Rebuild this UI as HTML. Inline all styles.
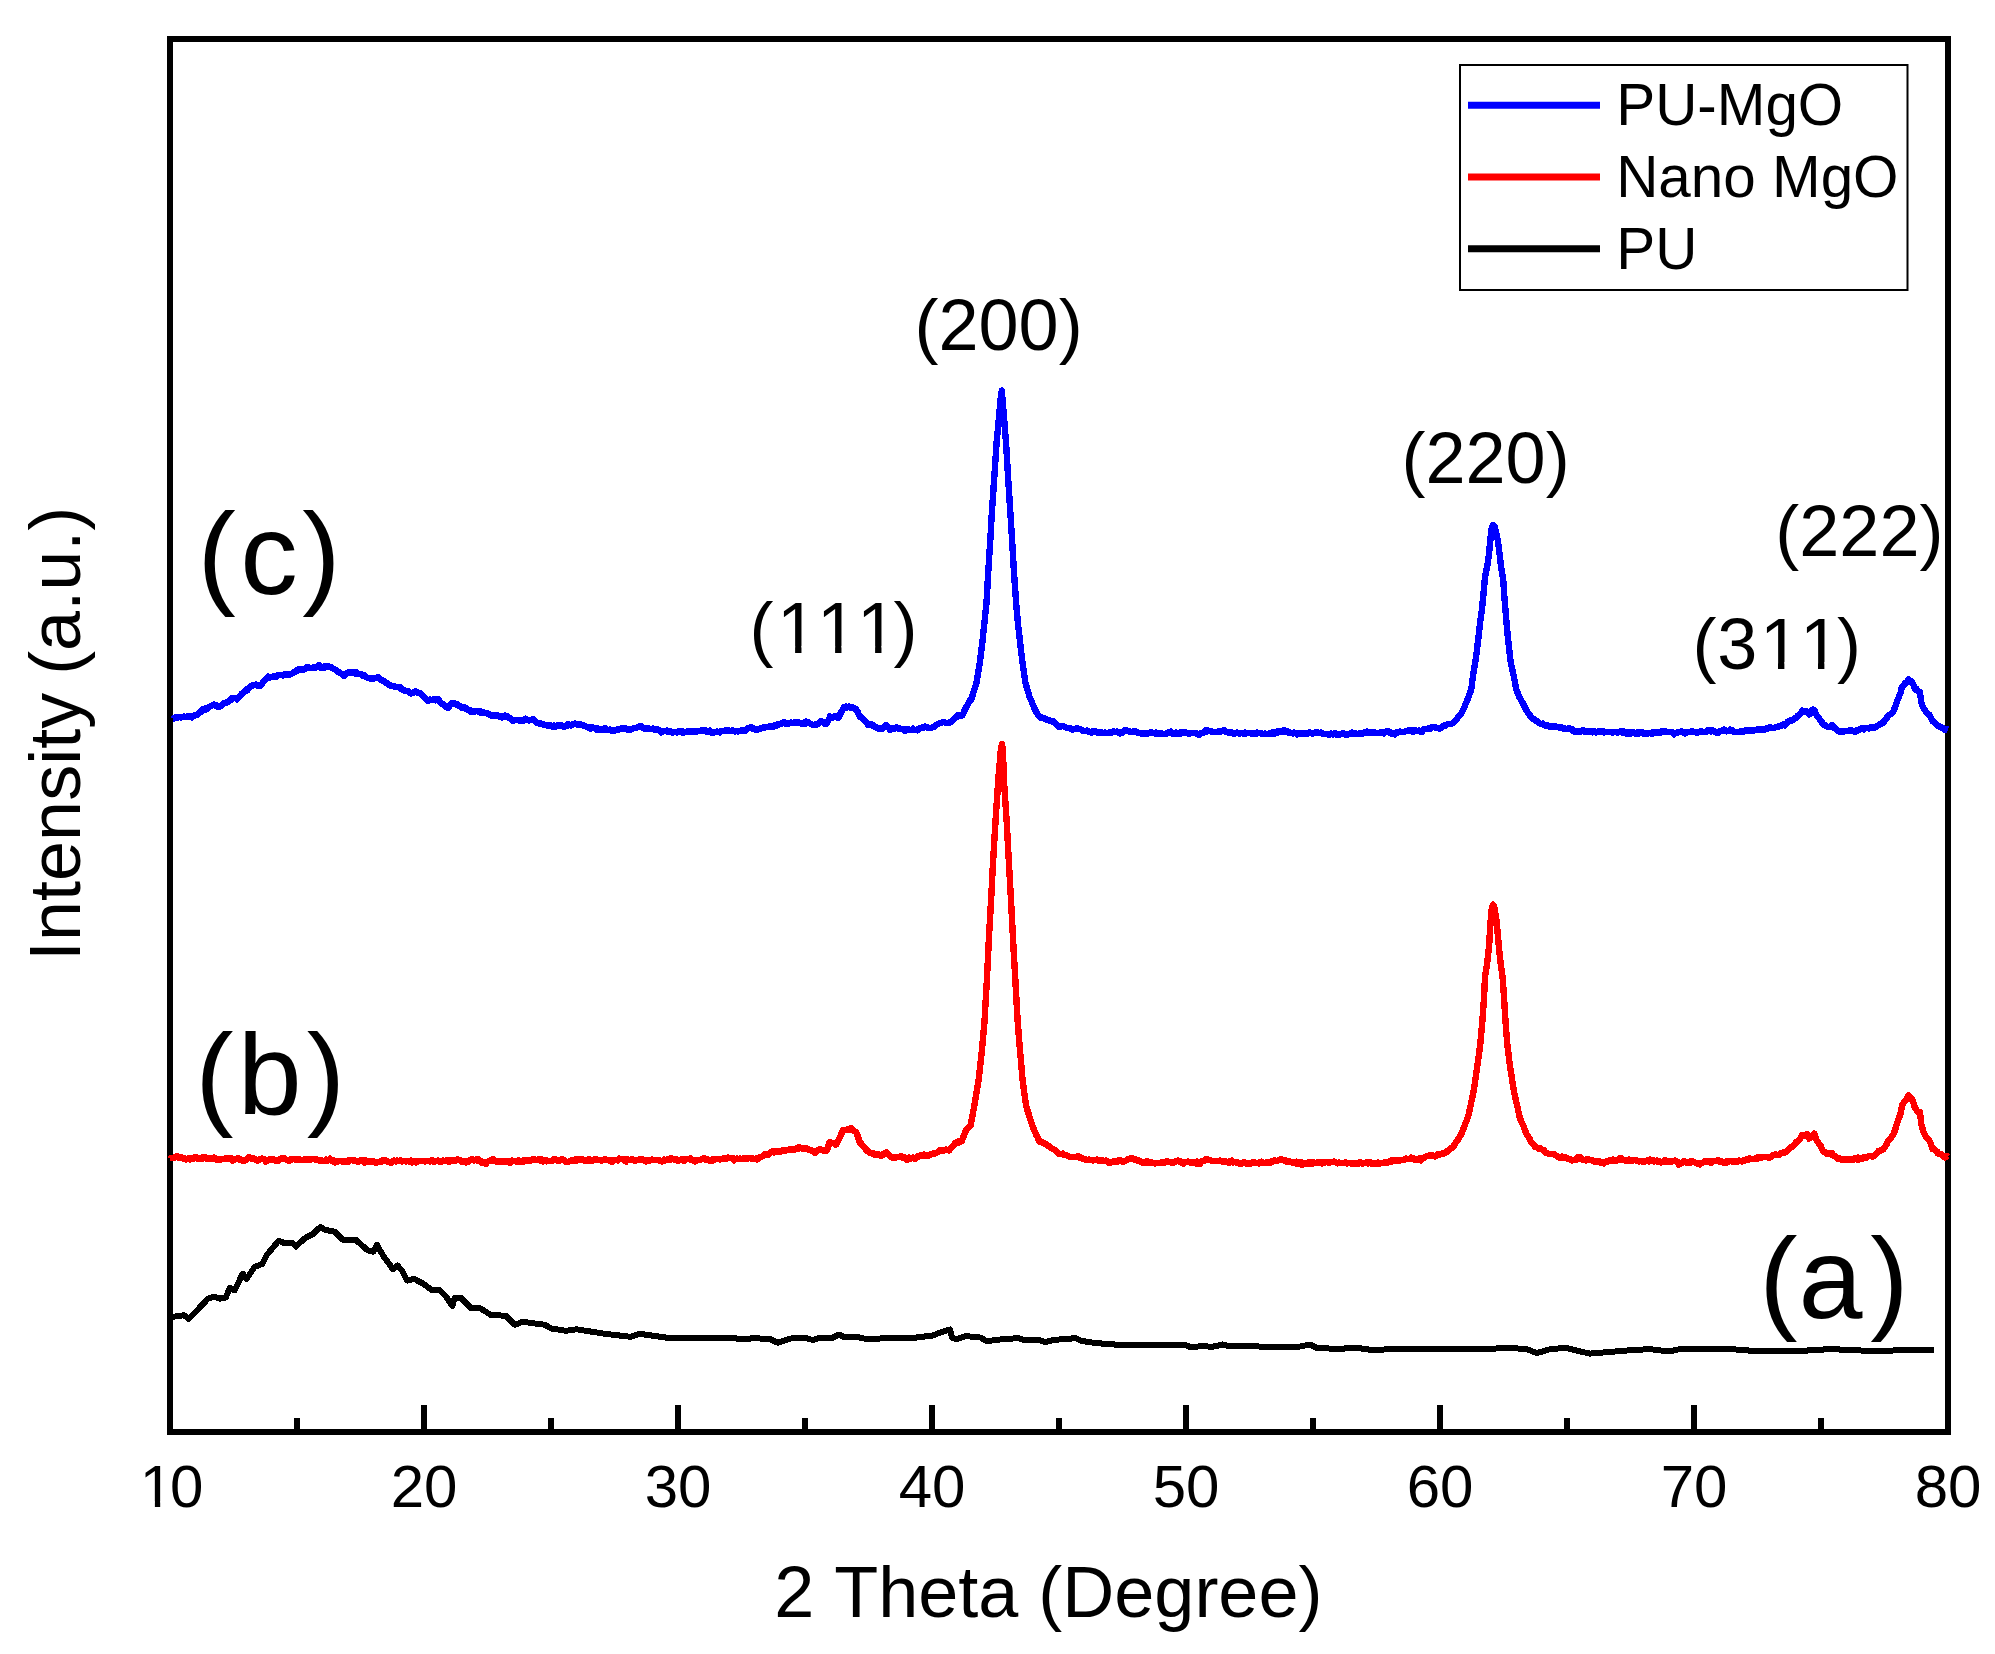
<!DOCTYPE html>
<html lang="en"><head><meta charset="utf-8"><title>XRD patterns</title>
<style>
html,body{margin:0;padding:0;background:#fff;}
body{width:1995px;height:1654px;overflow:hidden;}
svg{display:block;}
svg text{font-family:'Liberation Sans',Arial,sans-serif;fill:#000;font-kerning:none;}
.curve{fill:none;stroke-width:6.4;stroke-linejoin:round;stroke-linecap:butt;shape-rendering:crispEdges;}
</style></head><body>
<svg width="1995" height="1654" viewBox="0 0 1995 1654">
<rect x="0" y="0" width="1995" height="1654" fill="#fff"/>
<path class="curve" stroke="#000" style="stroke-width:6" d="M170.0 1317.0 L173.5 1316.7 L184.0 1315.2 L188.6 1318.8 L197.6 1309.8 L208.0 1298.6 L214.0 1296.8 L220.0 1298.6 L225.6 1297.7 L229.8 1287.8 L234.6 1290.2 L242.7 1273.7 L246.6 1278.8 L254.7 1266.8 L262.3 1264.0 L266.8 1255.0 L278.8 1240.6 L283.3 1242.7 L292.3 1242.7 L296.0 1246.6 L304.4 1238.5 L313.4 1233.7 L320.3 1227.0 L325.4 1230.0 L334.4 1231.6 L342.9 1239.7 L355.5 1239.7 L367.5 1250.2 L373.5 1251.7 L377.0 1245.0 L384.0 1257.0 L393.0 1269.2 L397.6 1265.6 L402.0 1270.7 L407.2 1280.6 L414.0 1278.8 L423.0 1283.6 L432.0 1290.2 L439.7 1290.2 L445.7 1296.2 L452.3 1305.9 L454.7 1297.7 L460.7 1297.7 L471.3 1308.3 L480.3 1308.3 L490.8 1314.9 L505.9 1315.8 L514.9 1324.8 L522.4 1321.8 L545.0 1324.8 L551.0 1328.4 L566.0 1330.8 L576.5 1329.3 L605.0 1333.8 L630.7 1336.8 L639.7 1333.8 L671.3 1338.3 L701.4 1337.7 L731.4 1337.7 L740.5 1339.2 L755.0 1338.2 L770.0 1339.1 L777.6 1342.7 L791.0 1338.5 L806.0 1338.2 L812.8 1340.0 L818.0 1338.2 L833.0 1337.6 L839.0 1334.6 L843.8 1337.0 L858.8 1337.3 L867.8 1339.4 L884.4 1338.2 L916.0 1337.6 L932.5 1335.5 L944.5 1331.0 L950.0 1329.5 L952.0 1337.6 L956.5 1339.1 L965.6 1336.1 L980.6 1337.6 L987.2 1341.5 L995.6 1339.7 L1010.7 1339.1 L1016.7 1337.6 L1022.7 1339.7 L1039.2 1340.0 L1045.3 1342.1 L1054.3 1339.7 L1069.3 1339.1 L1074.4 1337.6 L1081.4 1340.9 L1094.9 1343.0 L1122.0 1345.1 L1185.0 1345.1 L1191.0 1347.2 L1203.0 1346.0 L1212.0 1346.9 L1222.7 1344.5 L1230.0 1346.3 L1272.3 1346.6 L1299.4 1346.6 L1310.0 1344.5 L1317.4 1348.1 L1340.0 1348.9 L1355.0 1347.6 L1370.0 1349.7 L1415.0 1349.1 L1490.4 1349.1 L1504.0 1347.6 L1526.5 1349.1 L1537.0 1353.0 L1550.5 1349.1 L1565.6 1347.9 L1589.6 1353.6 L1625.7 1350.6 L1649.8 1349.1 L1669.3 1351.5 L1679.8 1349.1 L1731.0 1349.1 L1761.0 1351.5 L1806.0 1350.6 L1830.0 1349.1 L1851.0 1350.0 L1881.4 1351.5 L1902.4 1349.7 L1934.0 1349.7"/>
<g stroke="#000" stroke-width="6" fill="none">
<rect x="170" y="39" width="1778" height="1393"/>
<line x1="170.0" y1="1432" x2="170.0" y2="1405"/><line x1="424.0" y1="1432" x2="424.0" y2="1405"/><line x1="678.0" y1="1432" x2="678.0" y2="1405"/><line x1="932.0" y1="1432" x2="932.0" y2="1405"/><line x1="1186.0" y1="1432" x2="1186.0" y2="1405"/><line x1="1440.0" y1="1432" x2="1440.0" y2="1405"/><line x1="1694.0" y1="1432" x2="1694.0" y2="1405"/><line x1="1948.0" y1="1432" x2="1948.0" y2="1405"/><line x1="297.0" y1="1432" x2="297.0" y2="1418"/><line x1="551.0" y1="1432" x2="551.0" y2="1418"/><line x1="805.0" y1="1432" x2="805.0" y2="1418"/><line x1="1059.0" y1="1432" x2="1059.0" y2="1418"/><line x1="1313.0" y1="1432" x2="1313.0" y2="1418"/><line x1="1567.0" y1="1432" x2="1567.0" y2="1418"/><line x1="1821.0" y1="1432" x2="1821.0" y2="1418"/>
</g>
<path class="curve" stroke="#00f" d="M173.0 718.8 L173.5 718.2 L174.0 718.4 L175.0 718.1 L176.0 717.1 L177.0 717.9 L178.0 717.6 L179.0 717.1 L180.0 717.3 L181.0 717.5 L182.0 717.2 L183.0 717.1 L184.0 716.5 L185.0 717.3 L186.0 716.8 L187.0 716.6 L188.0 715.8 L189.0 717.2 L190.0 716.7 L191.0 716.6 L192.0 717.5 L193.0 716.4 L194.0 715.4 L195.0 715.5 L196.0 714.7 L197.0 715.1 L198.0 713.9 L199.0 713.0 L200.0 712.7 L201.0 710.9 L202.0 710.8 L203.0 709.3 L204.0 709.3 L205.0 708.6 L206.0 709.5 L207.0 709.3 L208.0 707.9 L209.0 707.5 L210.0 706.4 L211.0 706.2 L212.0 705.5 L213.0 705.0 L214.0 704.6 L215.0 705.1 L215.6 705.8 L216.0 705.3 L217.0 705.7 L218.0 706.9 L219.0 706.4 L220.0 706.4 L221.0 705.7 L222.0 704.7 L223.0 704.0 L224.0 703.0 L225.0 703.1 L226.0 702.6 L227.0 702.7 L228.0 701.7 L229.0 700.6 L230.0 700.4 L230.7 700.4 L231.0 699.1 L232.0 698.2 L233.0 697.7 L234.0 697.7 L235.0 698.2 L236.0 698.1 L237.0 699.3 L238.0 698.3 L239.0 697.2 L240.0 696.3 L241.0 695.1 L242.0 693.5 L243.0 692.7 L244.0 691.9 L245.0 690.7 L245.7 689.8 L246.0 690.8 L247.0 690.5 L248.0 689.5 L249.0 687.9 L250.0 687.1 L251.0 686.0 L252.0 685.5 L253.0 685.5 L254.0 685.2 L255.0 684.7 L256.0 684.6 L257.0 685.4 L258.0 685.5 L259.0 685.4 L260.0 685.0 L260.7 685.1 L261.0 685.3 L262.0 683.7 L263.0 682.2 L264.0 681.1 L265.0 679.9 L266.0 679.2 L267.0 678.1 L268.0 676.6 L268.3 677.0 L269.0 676.7 L270.0 677.5 L271.0 676.8 L272.0 677.3 L273.0 676.3 L274.0 676.4 L275.0 676.7 L276.0 676.8 L277.0 676.2 L278.0 675.0 L279.0 675.3 L280.0 675.2 L281.0 675.0 L282.0 674.8 L283.0 675.6 L284.0 674.5 L285.0 674.2 L286.0 674.8 L287.0 674.7 L288.0 674.6 L289.0 674.9 L290.0 674.4 L291.0 673.9 L292.0 673.6 L293.0 673.0 L294.0 672.3 L295.0 672.1 L296.0 671.3 L297.0 670.7 L298.0 669.5 L299.0 668.9 L300.0 669.6 L301.0 669.3 L302.0 669.2 L303.0 669.9 L304.0 669.2 L305.0 669.0 L305.9 668.1 L306.0 667.6 L307.0 667.3 L308.0 667.5 L309.0 667.6 L310.0 667.7 L311.0 668.2 L312.0 667.7 L313.0 668.1 L314.0 666.9 L315.0 667.3 L316.0 667.5 L317.0 667.2 L318.0 666.9 L319.0 665.1 L319.4 666.4 L320.0 667.3 L321.0 667.7 L322.0 667.0 L323.0 667.5 L324.0 667.9 L325.0 666.2 L326.0 667.0 L327.0 667.2 L328.0 666.3 L329.0 667.2 L330.0 666.8 L331.0 667.2 L331.4 667.3 L332.0 667.9 L333.0 668.4 L334.0 669.4 L335.0 669.4 L336.0 670.3 L337.0 671.3 L338.0 671.8 L339.0 671.8 L340.0 673.2 L341.0 673.5 L342.0 674.4 L343.0 675.0 L344.0 676.1 L345.0 675.2 L346.0 673.8 L347.0 673.2 L348.0 673.2 L349.0 672.3 L350.0 672.7 L351.0 672.4 L352.0 672.2 L353.0 672.9 L354.0 672.1 L355.0 672.1 L356.0 674.0 L357.0 672.7 L358.0 673.8 L359.0 674.2 L360.0 674.3 L361.0 674.1 L362.0 675.5 L363.0 674.8 L364.0 675.2 L365.0 676.0 L366.0 677.0 L367.0 677.4 L368.0 678.0 L369.0 677.9 L370.0 678.4 L370.5 678.4 L371.0 678.9 L372.0 679.1 L373.0 678.4 L374.0 678.5 L375.0 678.0 L376.0 677.8 L377.0 677.9 L378.0 677.3 L379.0 678.2 L380.0 678.9 L381.0 680.2 L382.0 680.3 L383.0 680.8 L384.0 681.1 L385.0 682.0 L386.0 682.8 L387.0 683.0 L388.0 684.0 L389.0 685.0 L390.0 685.6 L391.0 685.6 L392.0 686.2 L393.0 685.8 L394.0 686.1 L395.0 686.8 L396.0 687.1 L397.0 686.9 L397.6 686.9 L398.0 687.2 L399.0 687.4 L400.0 687.1 L401.0 688.8 L402.0 689.2 L403.0 690.2 L404.0 690.1 L405.0 691.3 L406.0 690.8 L407.0 691.2 L408.0 691.3 L409.0 692.4 L409.6 692.9 L410.0 693.2 L411.0 693.5 L412.0 693.2 L413.0 693.3 L414.0 692.1 L415.0 691.4 L416.0 691.5 L417.0 691.7 L418.0 692.7 L419.0 693.1 L420.0 692.9 L421.0 694.2 L422.0 695.4 L423.0 696.0 L424.0 696.9 L425.0 698.1 L426.0 698.6 L427.0 699.7 L427.7 700.1 L428.0 700.8 L429.0 700.4 L430.0 699.6 L431.0 699.8 L432.0 699.9 L433.0 699.4 L434.0 699.6 L435.0 699.0 L436.0 700.3 L437.0 699.7 L438.0 699.3 L439.0 700.0 L439.7 701.3 L440.0 702.4 L441.0 703.1 L442.0 704.2 L443.0 704.3 L444.0 704.9 L445.0 706.4 L446.0 706.9 L447.0 707.2 L448.0 707.9 L448.7 707.0 L449.0 706.4 L450.0 705.4 L451.0 704.5 L452.0 703.0 L453.0 702.9 L454.0 703.0 L455.0 704.2 L456.0 704.5 L457.0 704.2 L458.0 705.2 L459.0 705.8 L460.0 705.9 L461.0 706.6 L462.0 707.8 L463.0 707.1 L464.0 707.3 L465.0 707.9 L466.0 708.2 L467.0 709.7 L468.0 709.9 L469.0 709.8 L470.0 710.1 L471.0 711.6 L472.0 710.7 L472.8 711.0 L473.0 711.6 L474.0 711.8 L475.0 711.5 L476.0 710.9 L477.0 710.8 L478.0 711.7 L479.0 711.7 L480.0 711.3 L481.0 712.8 L482.0 712.7 L483.0 712.1 L483.3 712.0 L484.0 712.5 L485.0 712.7 L486.0 712.8 L487.0 713.7 L488.0 713.4 L489.0 714.5 L490.0 714.5 L490.8 715.3 L491.0 715.3 L492.0 716.2 L493.0 715.1 L494.0 715.1 L495.0 715.5 L496.0 715.2 L497.0 715.3 L498.0 716.0 L499.0 716.5 L500.0 717.1 L501.0 716.1 L502.0 717.6 L503.0 717.3 L504.0 716.3 L505.0 715.5 L505.9 716.4 L506.0 716.5 L507.0 716.3 L508.0 717.7 L509.0 717.9 L510.0 718.1 L511.0 719.2 L512.0 720.2 L513.0 720.5 L513.4 721.1 L514.0 720.3 L515.0 719.7 L516.0 719.7 L517.0 720.1 L518.0 720.1 L519.0 719.8 L520.0 721.2 L521.0 720.2 L522.0 720.6 L523.0 720.9 L524.0 719.8 L525.0 719.0 L525.4 718.8 L526.0 720.1 L527.0 719.9 L528.0 720.2 L529.0 720.5 L530.0 720.1 L531.0 720.1 L532.0 719.9 L533.0 719.2 L534.0 720.2 L535.0 721.5 L536.0 722.1 L537.0 722.8 L538.0 722.9 L539.0 723.2 L540.0 723.9 L541.0 723.6 L542.0 724.1 L543.0 724.0 L544.0 725.3 L545.0 725.1 L546.0 725.3 L547.0 725.6 L548.0 725.5 L549.0 725.3 L550.0 726.1 L551.0 725.6 L552.0 726.4 L553.0 726.4 L554.0 725.6 L555.0 726.8 L556.0 725.7 L557.0 726.0 L558.0 725.2 L559.0 725.9 L560.0 726.2 L561.0 725.6 L562.0 725.6 L563.0 726.4 L564.0 726.8 L565.0 726.0 L566.0 725.6 L567.0 725.9 L568.0 724.3 L569.0 725.1 L570.0 724.7 L571.0 725.5 L572.0 724.9 L573.0 724.3 L574.0 724.2 L575.0 723.5 L576.0 724.2 L577.0 724.3 L578.0 724.7 L579.0 724.3 L579.5 724.6 L580.0 724.0 L581.0 724.5 L582.0 724.9 L583.0 724.8 L584.0 725.8 L585.0 726.1 L586.0 726.6 L587.0 726.8 L588.0 727.2 L589.0 727.9 L590.0 728.6 L591.0 727.2 L592.0 727.7 L593.0 727.5 L594.0 728.3 L595.0 728.6 L596.0 729.4 L597.0 728.3 L598.0 729.5 L599.0 729.4 L600.0 729.7 L601.0 729.3 L602.0 729.2 L603.0 729.7 L604.0 730.2 L605.0 728.3 L606.0 729.7 L607.0 730.3 L608.0 730.2 L609.0 730.0 L610.0 729.4 L611.0 729.7 L612.0 730.7 L613.0 731.2 L614.0 730.8 L615.0 730.1 L616.0 730.1 L617.0 729.6 L618.0 729.7 L619.0 729.3 L620.0 728.8 L621.0 729.0 L622.0 728.1 L623.0 728.8 L624.0 729.0 L625.0 728.1 L626.0 729.1 L627.0 728.7 L628.0 729.8 L629.0 729.8 L630.0 729.3 L631.0 729.7 L632.0 728.9 L633.0 728.5 L634.0 728.2 L635.0 728.1 L636.0 727.7 L637.0 727.6 L638.0 726.9 L639.0 727.2 L639.7 727.0 L640.0 726.1 L641.0 725.8 L642.0 727.2 L643.0 728.2 L644.0 728.4 L645.0 728.3 L646.0 728.9 L647.0 729.3 L648.0 727.9 L649.0 729.0 L650.0 728.9 L651.0 728.7 L652.0 729.2 L653.0 728.4 L654.0 729.1 L655.0 729.8 L656.0 729.7 L657.0 729.6 L658.0 729.6 L659.0 730.3 L660.0 730.6 L661.0 732.4 L662.0 731.7 L663.0 731.3 L664.0 731.0 L665.0 730.8 L666.0 730.9 L667.0 730.4 L668.0 731.7 L669.0 730.9 L670.0 731.2 L671.0 731.9 L672.0 732.5 L673.0 732.5 L674.0 731.7 L675.0 732.1 L676.0 732.3 L677.0 732.6 L678.0 732.2 L679.0 731.3 L680.0 730.8 L681.0 731.4 L682.0 731.1 L683.0 732.7 L684.0 732.5 L685.0 732.0 L686.0 732.0 L687.0 731.6 L688.0 731.5 L689.0 732.0 L690.0 731.1 L691.0 731.1 L692.0 732.1 L693.0 731.8 L694.0 731.6 L695.0 731.5 L696.0 731.0 L697.0 731.4 L698.0 730.7 L699.0 731.2 L700.0 730.8 L701.0 730.6 L702.0 731.1 L703.0 730.9 L704.0 729.8 L705.0 730.3 L706.0 731.2 L707.0 731.8 L708.0 731.0 L709.0 731.1 L710.0 730.5 L711.0 732.4 L712.0 731.9 L713.0 732.4 L714.0 732.4 L715.0 732.3 L716.0 731.9 L717.0 731.4 L718.0 732.1 L719.0 732.0 L720.0 732.4 L721.0 731.2 L722.0 730.9 L723.0 731.1 L724.0 731.2 L725.0 730.7 L726.0 730.3 L727.0 730.4 L728.0 730.2 L729.0 731.3 L730.0 731.0 L731.0 731.2 L732.0 730.8 L733.0 730.3 L734.0 731.1 L735.0 731.4 L736.0 731.2 L737.0 731.1 L738.0 731.6 L739.0 730.8 L740.0 731.1 L741.0 730.4 L742.0 730.2 L743.0 731.0 L744.0 730.8 L745.0 731.2 L746.0 729.7 L747.0 729.3 L748.0 728.3 L749.0 727.7 L750.0 727.5 L751.0 728.3 L752.0 727.5 L753.0 728.7 L754.0 729.2 L755.0 728.9 L756.0 729.8 L757.0 729.2 L758.0 729.6 L759.0 728.9 L760.0 729.0 L761.0 727.8 L762.0 728.1 L763.0 727.4 L764.0 727.4 L765.0 727.6 L766.0 727.3 L767.0 727.0 L768.0 727.2 L769.0 727.0 L770.0 725.9 L771.0 726.6 L772.0 726.7 L773.0 726.1 L774.0 726.4 L775.0 725.3 L776.0 725.9 L777.0 724.6 L778.0 724.1 L779.0 724.4 L780.0 723.7 L781.0 723.8 L782.0 722.8 L783.0 722.7 L784.0 722.2 L785.0 722.9 L786.0 723.8 L787.0 723.8 L788.0 724.0 L789.0 723.0 L790.0 722.7 L791.0 722.5 L792.0 722.9 L793.0 722.8 L794.0 722.6 L795.0 722.8 L796.0 722.5 L797.0 722.6 L798.0 723.2 L799.0 722.5 L800.0 723.0 L801.0 723.7 L802.0 723.1 L803.0 723.4 L804.0 722.7 L805.0 723.7 L806.0 721.6 L807.0 721.8 L808.0 721.8 L809.0 723.2 L810.0 723.6 L811.0 724.2 L812.0 724.3 L813.0 725.1 L814.0 725.1 L814.4 724.8 L815.0 724.4 L816.0 724.3 L817.0 724.5 L818.0 724.0 L819.0 723.2 L820.0 722.3 L821.0 720.9 L822.0 722.1 L823.0 722.1 L824.0 723.1 L825.0 723.8 L826.0 723.9 L826.5 723.9 L827.0 723.4 L828.0 721.2 L829.0 719.1 L830.0 716.4 L831.0 717.2 L832.0 717.4 L833.0 717.5 L834.0 716.5 L835.0 716.5 L836.0 716.6 L837.0 717.6 L838.0 717.4 L838.5 717.9 L839.0 716.7 L840.0 714.8 L841.0 712.4 L842.0 711.0 L843.0 708.9 L843.8 707.2 L844.0 707.5 L845.0 707.7 L846.0 706.5 L847.0 707.4 L848.0 706.9 L849.0 706.4 L850.0 707.2 L850.5 707.0 L851.0 707.7 L852.0 707.3 L853.0 707.5 L854.0 708.6 L855.0 709.4 L855.8 708.9 L856.0 709.2 L857.0 710.8 L858.0 712.5 L859.0 714.8 L860.0 717.2 L861.0 717.1 L862.0 718.4 L863.0 718.9 L864.0 720.3 L865.0 721.4 L866.0 721.7 L867.0 723.1 L867.8 724.7 L868.0 724.6 L869.0 724.6 L870.0 724.7 L871.0 724.3 L872.0 725.4 L873.0 725.2 L874.0 726.4 L875.0 727.2 L876.0 727.2 L877.0 727.8 L878.0 728.7 L879.0 728.6 L880.0 728.6 L881.0 727.8 L882.0 729.0 L883.0 728.3 L884.0 726.7 L885.0 725.9 L886.0 725.1 L887.0 726.8 L888.0 727.1 L889.0 727.7 L890.0 729.8 L891.0 729.0 L892.0 728.7 L893.0 728.1 L894.0 727.7 L895.0 728.4 L896.0 727.5 L897.0 727.6 L898.0 728.1 L899.0 729.1 L900.0 728.4 L901.0 728.8 L902.0 728.7 L903.0 729.0 L904.0 729.3 L905.0 730.5 L905.4 731.1 L906.0 730.0 L907.0 729.3 L908.0 729.0 L909.0 729.9 L910.0 729.9 L911.0 729.8 L912.0 729.5 L913.0 728.7 L914.0 729.8 L915.0 730.0 L916.0 730.1 L917.0 730.2 L917.4 730.3 L918.0 729.4 L919.0 728.4 L920.0 728.6 L921.0 727.8 L922.0 727.7 L923.0 727.3 L924.0 727.5 L925.0 726.6 L926.0 726.9 L927.0 727.4 L928.0 727.6 L929.0 728.2 L930.0 728.0 L931.0 727.9 L932.0 727.5 L933.0 726.9 L934.0 726.8 L935.0 725.7 L936.0 724.7 L937.0 724.5 L938.0 723.9 L939.0 723.4 L940.0 722.8 L941.0 723.1 L941.5 722.8 L942.0 722.6 L943.0 722.3 L944.0 722.2 L945.0 722.6 L946.0 723.0 L947.0 723.0 L948.0 722.9 L949.0 722.6 L950.0 722.7 L950.5 722.4 L951.0 721.4 L952.0 721.0 L953.0 720.1 L954.0 719.4 L955.0 718.3 L956.0 717.5 L956.5 716.6 L957.0 716.9 L958.0 715.3 L959.0 715.6 L960.0 715.6 L961.0 716.1 L962.0 715.6 L962.6 715.1 L963.0 714.0 L964.0 711.7 L965.0 709.5 L965.7 708.0 L966.0 707.4 L967.0 705.6 L968.0 703.9 L969.0 702.5 L970.0 700.5 L971.0 699.5 L971.3 699.6 L972.0 697.2 L973.0 693.9 L974.0 690.9 L975.0 687.3 L976.0 684.2 L976.4 683.2 L977.0 679.6 L978.0 673.2 L979.0 667.4 L979.7 663.3 L980.0 660.8 L981.0 653.1 L982.0 645.4 L983.0 636.0 L984.0 626.8 L984.2 624.9 L985.0 617.0 L986.0 607.5 L986.5 602.7 L987.0 594.0 L988.0 576.6 L988.3 571.4 L989.0 560.4 L990.0 544.8 L990.3 540.1 L991.0 528.0 L992.0 510.5 L992.1 508.7 L993.0 495.8 L994.0 481.7 L994.3 477.4 L995.0 466.6 L996.0 451.4 L996.5 443.7 L997.0 438.3 L998.0 427.5 L999.0 416.7 L999.2 414.7 L1000.0 406.1 L1001.0 395.4 L1001.9 390.6 L1002.0 392.3 L1002.2 395.5 L1003.0 405.1 L1003.8 414.7 L1004.0 417.3 L1005.0 429.8 L1006.0 442.4 L1006.1 443.7 L1007.0 458.9 L1008.0 475.7 L1008.1 477.4 L1009.0 491.5 L1010.0 507.2 L1010.1 508.8 L1011.0 522.8 L1012.0 538.5 L1012.1 540.0 L1013.0 555.6 L1013.9 571.5 L1014.0 572.7 L1015.0 587.0 L1016.0 601.3 L1016.1 602.7 L1017.0 612.8 L1018.0 623.9 L1018.1 625.0 L1019.0 632.8 L1020.0 641.5 L1020.4 645.2 L1021.0 650.2 L1022.0 658.4 L1022.6 663.1 L1023.0 666.0 L1024.0 672.8 L1025.0 679.8 L1025.5 683.0 L1026.0 684.6 L1027.0 688.0 L1028.0 691.3 L1029.0 694.8 L1029.5 696.7 L1030.0 697.8 L1031.0 700.0 L1032.0 702.4 L1033.0 705.0 L1034.0 707.5 L1035.0 709.5 L1036.0 711.5 L1037.0 713.3 L1038.0 715.1 L1038.4 715.8 L1039.0 716.1 L1040.0 716.4 L1041.0 717.8 L1042.0 718.0 L1043.0 717.7 L1044.0 718.0 L1045.0 718.5 L1045.1 718.7 L1046.0 719.4 L1047.0 719.6 L1048.0 719.9 L1049.0 720.3 L1050.0 720.8 L1051.0 721.2 L1051.9 721.4 L1052.0 721.0 L1053.0 720.9 L1054.0 722.0 L1055.0 723.4 L1056.0 723.6 L1057.0 724.6 L1058.0 726.2 L1058.6 726.6 L1059.0 726.5 L1060.0 727.3 L1061.0 726.6 L1062.0 726.3 L1063.0 725.7 L1064.0 726.5 L1065.0 726.9 L1066.0 727.5 L1067.0 727.9 L1068.0 728.0 L1069.0 728.0 L1070.0 728.6 L1071.0 728.4 L1072.0 729.5 L1073.0 729.6 L1074.0 729.1 L1075.0 728.7 L1076.0 728.9 L1077.0 728.3 L1078.0 728.9 L1079.0 729.0 L1080.0 728.7 L1081.0 729.5 L1082.0 730.4 L1083.0 730.7 L1084.0 731.0 L1085.0 730.8 L1086.0 730.8 L1087.0 730.6 L1088.0 731.0 L1089.0 732.0 L1090.0 732.0 L1091.0 732.5 L1092.0 732.4 L1093.0 730.8 L1094.0 731.1 L1095.0 730.9 L1096.0 731.9 L1097.0 732.5 L1098.0 731.7 L1099.0 732.2 L1100.0 732.7 L1101.0 732.5 L1102.0 732.6 L1103.0 732.7 L1104.0 733.3 L1105.0 732.5 L1106.0 733.3 L1107.0 732.8 L1108.0 732.9 L1109.0 733.3 L1110.0 732.3 L1111.0 732.1 L1112.0 732.4 L1113.0 731.6 L1114.0 731.5 L1115.0 731.8 L1116.0 732.0 L1117.0 731.6 L1118.0 732.3 L1119.0 733.0 L1120.0 733.5 L1121.0 731.9 L1122.0 732.8 L1123.0 732.0 L1124.0 730.6 L1125.0 730.1 L1126.0 730.7 L1127.0 730.4 L1128.0 730.9 L1129.0 731.7 L1130.0 731.6 L1131.0 732.0 L1132.0 731.9 L1133.0 731.6 L1134.0 731.5 L1135.0 731.6 L1136.0 731.4 L1137.0 731.7 L1138.0 733.1 L1139.0 732.8 L1140.0 733.0 L1141.0 732.8 L1142.0 734.1 L1143.0 733.5 L1144.0 733.6 L1145.0 733.2 L1146.0 733.6 L1147.0 734.0 L1148.0 733.3 L1149.0 733.2 L1150.0 733.0 L1151.0 732.2 L1152.0 732.4 L1153.0 732.8 L1154.0 732.7 L1155.0 733.5 L1156.0 732.6 L1157.0 733.3 L1158.0 733.7 L1159.0 733.2 L1160.0 734.1 L1161.0 734.0 L1162.0 733.6 L1163.0 733.8 L1164.0 733.9 L1165.0 734.2 L1166.0 734.1 L1167.0 732.7 L1168.0 732.6 L1169.0 732.7 L1170.0 732.9 L1171.0 731.5 L1172.0 733.5 L1173.0 733.1 L1174.0 733.8 L1175.0 732.8 L1176.0 732.5 L1177.0 733.0 L1178.0 733.9 L1179.0 733.6 L1180.0 732.5 L1181.0 733.6 L1182.0 732.4 L1183.0 732.6 L1184.0 732.6 L1185.0 732.3 L1186.0 732.6 L1187.0 732.9 L1188.0 733.4 L1189.0 733.8 L1190.0 733.7 L1191.0 732.9 L1192.0 733.0 L1193.0 733.2 L1194.0 733.1 L1195.0 732.8 L1196.0 733.3 L1197.0 733.9 L1198.0 734.5 L1199.0 734.9 L1200.0 733.9 L1201.0 733.3 L1202.0 733.2 L1203.0 732.7 L1204.0 732.3 L1205.0 730.6 L1206.0 731.2 L1206.4 729.9 L1207.0 731.5 L1208.0 731.1 L1209.0 731.0 L1210.0 730.9 L1211.0 731.7 L1212.0 731.3 L1213.0 732.1 L1214.0 732.1 L1215.0 732.1 L1216.0 732.2 L1217.0 732.2 L1218.0 731.6 L1219.0 732.2 L1220.0 732.0 L1221.0 731.3 L1222.0 731.2 L1223.0 731.1 L1224.0 730.2 L1225.0 731.2 L1226.0 731.7 L1227.0 732.0 L1228.0 732.7 L1229.0 732.1 L1230.0 732.2 L1231.0 732.4 L1232.0 732.5 L1233.0 732.7 L1234.0 733.8 L1235.0 732.8 L1236.0 733.1 L1237.0 732.4 L1238.0 733.1 L1239.0 733.4 L1240.0 733.5 L1241.0 732.7 L1242.0 732.8 L1243.0 733.6 L1244.0 733.0 L1244.5 733.5 L1245.0 732.5 L1246.0 733.4 L1247.0 733.3 L1248.0 733.2 L1249.0 732.8 L1250.0 733.2 L1251.0 733.4 L1252.0 733.6 L1253.0 733.5 L1254.0 733.4 L1255.0 733.5 L1256.0 734.1 L1257.0 732.6 L1258.0 732.9 L1259.0 732.8 L1260.0 733.3 L1261.0 733.0 L1262.0 734.1 L1263.0 734.0 L1264.0 733.9 L1265.0 733.6 L1266.0 733.8 L1267.0 733.8 L1268.0 733.8 L1269.0 733.4 L1270.0 733.9 L1271.0 732.8 L1272.0 733.9 L1273.0 731.9 L1274.0 733.1 L1274.6 732.9 L1275.0 733.5 L1276.0 732.1 L1277.0 732.7 L1278.0 730.9 L1279.0 731.8 L1279.6 731.1 L1280.0 730.9 L1281.0 730.8 L1282.0 731.4 L1283.0 730.9 L1284.0 729.9 L1285.0 731.8 L1286.0 731.8 L1287.0 731.3 L1288.0 732.5 L1289.0 731.9 L1290.0 732.8 L1291.0 733.2 L1292.0 733.0 L1293.0 733.5 L1294.0 732.5 L1295.0 732.9 L1296.0 732.8 L1296.6 733.4 L1297.0 734.6 L1298.0 733.8 L1299.0 733.1 L1300.0 733.4 L1301.0 733.2 L1302.0 733.7 L1303.0 733.7 L1304.0 733.6 L1305.0 733.5 L1306.0 733.3 L1307.0 733.7 L1308.0 733.7 L1309.0 732.6 L1310.0 732.6 L1311.0 732.7 L1312.0 733.5 L1313.0 733.6 L1314.0 732.7 L1315.0 732.9 L1316.0 732.0 L1317.0 732.2 L1318.0 732.7 L1319.0 732.9 L1320.0 733.0 L1320.7 732.6 L1321.0 732.4 L1322.0 733.5 L1323.0 733.5 L1324.0 733.9 L1325.0 733.9 L1326.0 734.2 L1327.0 734.3 L1328.0 734.4 L1329.0 733.8 L1330.0 734.4 L1331.0 733.6 L1332.0 733.7 L1333.0 734.5 L1334.0 733.9 L1335.0 733.3 L1336.0 734.5 L1337.0 734.5 L1338.0 734.8 L1339.0 734.5 L1340.0 734.5 L1341.0 733.9 L1342.0 733.4 L1343.0 734.3 L1344.0 733.6 L1344.8 733.8 L1345.0 734.0 L1346.0 735.1 L1347.0 734.7 L1348.0 734.0 L1349.0 733.8 L1350.0 733.8 L1351.0 733.7 L1352.0 732.5 L1353.0 733.7 L1354.0 733.3 L1355.0 733.2 L1356.0 733.4 L1357.0 733.9 L1358.0 734.1 L1359.0 733.3 L1360.0 733.4 L1361.0 732.8 L1362.0 733.5 L1363.0 733.6 L1364.0 732.6 L1365.0 732.8 L1366.0 733.1 L1367.0 731.7 L1368.0 732.2 L1369.0 732.8 L1370.0 732.0 L1371.0 732.6 L1372.0 732.8 L1373.0 733.1 L1374.0 732.1 L1375.0 733.2 L1376.0 732.8 L1377.0 733.2 L1378.0 733.1 L1379.0 732.7 L1380.0 732.8 L1380.8 731.9 L1381.0 732.4 L1382.0 732.8 L1383.0 733.2 L1384.0 733.6 L1385.0 731.9 L1386.0 732.1 L1387.0 731.3 L1388.0 731.2 L1389.0 732.6 L1390.0 732.3 L1391.0 733.4 L1392.0 733.7 L1393.0 733.1 L1394.0 732.8 L1395.0 734.4 L1396.0 733.0 L1397.0 732.2 L1398.0 732.5 L1399.0 732.0 L1400.0 731.6 L1401.0 731.8 L1402.0 732.1 L1403.0 731.9 L1404.0 732.0 L1405.0 731.4 L1406.0 731.2 L1407.0 731.2 L1408.0 730.6 L1409.0 730.6 L1410.0 729.9 L1411.0 730.1 L1412.0 730.2 L1413.0 731.8 L1414.0 730.7 L1415.0 731.3 L1416.0 730.5 L1417.0 730.8 L1418.0 731.1 L1419.0 730.4 L1420.0 731.6 L1421.0 731.3 L1422.0 731.8 L1423.0 730.3 L1424.0 729.1 L1425.0 728.8 L1426.0 729.2 L1427.0 729.1 L1428.0 728.8 L1429.0 728.0 L1430.0 728.0 L1431.0 728.5 L1432.0 727.2 L1433.0 727.1 L1434.0 726.8 L1435.0 726.7 L1436.0 727.8 L1437.0 727.8 L1438.0 728.1 L1439.0 728.4 L1440.0 728.6 L1441.0 728.3 L1442.0 727.1 L1443.0 726.4 L1444.0 725.6 L1445.0 726.0 L1446.0 725.1 L1447.0 724.3 L1448.0 724.3 L1449.0 724.1 L1450.0 724.2 L1451.0 724.2 L1452.0 723.6 L1453.0 722.8 L1454.0 722.0 L1455.0 720.7 L1456.0 719.9 L1457.0 718.8 L1458.0 717.4 L1459.0 715.7 L1460.0 714.8 L1461.0 714.6 L1462.0 712.0 L1463.0 710.2 L1464.0 708.0 L1465.0 705.5 L1466.0 703.0 L1467.0 700.8 L1468.0 698.1 L1469.0 695.7 L1470.0 693.1 L1471.0 690.1 L1471.2 689.6 L1472.0 683.6 L1473.0 675.9 L1473.4 673.0 L1474.0 669.4 L1475.0 663.3 L1476.0 657.4 L1476.1 656.9 L1477.0 649.5 L1478.0 641.3 L1478.1 640.7 L1479.0 632.6 L1479.9 624.4 L1480.0 623.7 L1481.0 616.1 L1482.0 608.7 L1482.1 607.8 L1483.0 598.9 L1483.7 591.5 L1484.0 588.3 L1485.0 577.3 L1486.0 572.1 L1487.0 567.1 L1487.5 564.7 L1488.0 561.0 L1489.0 553.6 L1490.0 543.4 L1490.3 540.6 L1491.0 533.5 L1491.4 529.8 L1492.0 528.1 L1493.0 524.8 L1494.0 526.0 L1494.9 526.8 L1495.0 527.7 L1496.0 532.0 L1497.0 536.7 L1497.9 540.6 L1498.0 541.4 L1499.0 549.2 L1499.5 553.3 L1500.0 557.4 L1501.0 565.7 L1501.1 566.7 L1502.0 572.5 L1503.0 578.9 L1503.3 580.7 L1504.0 591.2 L1504.4 596.9 L1505.0 604.6 L1505.7 613.2 L1506.0 616.8 L1507.0 628.5 L1507.1 629.6 L1508.0 638.4 L1508.8 646.1 L1509.0 647.6 L1510.0 656.6 L1510.4 660.3 L1511.0 663.4 L1512.0 668.0 L1513.0 672.6 L1513.1 672.9 L1514.0 677.6 L1515.0 682.5 L1516.0 687.7 L1516.4 690.0 L1517.0 691.5 L1518.0 693.5 L1518.3 694.7 L1519.0 696.6 L1520.0 698.2 L1521.0 699.8 L1522.0 701.7 L1523.0 703.5 L1524.0 705.4 L1525.0 707.4 L1526.0 709.4 L1527.0 711.4 L1527.4 711.9 L1528.0 713.0 L1529.0 714.1 L1530.0 715.5 L1531.0 717.1 L1532.0 718.0 L1533.0 718.9 L1534.0 719.3 L1535.0 719.7 L1536.0 721.0 L1537.0 720.8 L1538.0 721.6 L1539.0 722.5 L1539.4 723.3 L1540.0 723.6 L1541.0 724.0 L1542.0 723.7 L1543.0 723.5 L1544.0 724.8 L1545.0 725.4 L1546.0 725.2 L1547.0 725.2 L1548.0 725.8 L1549.0 726.5 L1550.0 726.4 L1551.0 726.3 L1552.0 726.8 L1553.0 726.9 L1554.0 726.0 L1555.0 727.0 L1556.0 726.4 L1557.0 727.1 L1558.0 727.2 L1559.0 727.0 L1560.0 727.9 L1560.5 727.1 L1561.0 727.3 L1562.0 728.0 L1563.0 728.6 L1564.0 728.7 L1565.0 728.5 L1566.0 729.3 L1567.0 729.1 L1568.0 729.3 L1569.0 728.2 L1570.0 728.5 L1571.0 728.7 L1572.0 729.1 L1573.0 730.5 L1574.0 731.6 L1575.0 731.2 L1575.5 731.4 L1576.0 730.8 L1577.0 731.7 L1578.0 730.9 L1579.0 731.6 L1580.0 731.1 L1581.0 731.4 L1582.0 730.9 L1583.0 730.2 L1584.0 731.5 L1585.0 732.0 L1586.0 730.9 L1587.0 731.7 L1588.0 731.6 L1589.0 731.6 L1590.0 732.3 L1591.0 731.5 L1592.0 732.3 L1593.0 732.4 L1594.0 731.2 L1595.0 731.8 L1596.0 732.6 L1597.0 732.0 L1598.0 731.5 L1599.0 731.3 L1600.0 731.8 L1601.0 731.8 L1602.0 732.3 L1603.0 731.3 L1604.0 732.4 L1605.0 731.7 L1606.0 732.2 L1607.0 731.8 L1608.0 731.7 L1609.0 732.2 L1610.0 732.0 L1611.0 732.2 L1612.0 732.5 L1613.0 732.5 L1614.0 732.1 L1615.0 732.0 L1616.0 732.2 L1617.0 732.6 L1618.0 732.7 L1619.0 731.8 L1620.0 731.7 L1620.6 731.3 L1621.0 731.8 L1622.0 732.4 L1623.0 730.9 L1624.0 732.7 L1625.0 732.8 L1626.0 732.3 L1627.0 733.7 L1628.0 733.5 L1629.0 733.5 L1630.0 732.3 L1631.0 733.5 L1632.0 732.3 L1633.0 732.1 L1634.0 733.3 L1635.0 733.4 L1636.0 733.9 L1637.0 734.2 L1638.0 732.4 L1639.0 733.4 L1640.0 731.9 L1641.0 731.9 L1642.0 732.5 L1643.0 732.5 L1644.0 733.7 L1645.0 734.2 L1646.0 733.8 L1647.0 733.9 L1648.0 732.7 L1649.0 732.8 L1650.0 732.7 L1651.0 733.1 L1652.0 734.1 L1653.0 732.1 L1654.0 731.8 L1655.0 732.0 L1656.0 732.9 L1657.0 733.1 L1658.0 732.2 L1659.0 733.0 L1660.0 732.3 L1661.0 732.5 L1662.0 731.1 L1663.0 731.2 L1664.0 732.0 L1665.0 731.0 L1666.0 732.0 L1667.0 731.9 L1668.0 731.9 L1669.0 732.0 L1670.0 731.9 L1671.0 732.1 L1672.0 732.1 L1673.0 732.7 L1674.0 734.3 L1675.0 733.6 L1676.0 733.2 L1677.0 732.8 L1678.0 731.9 L1679.0 732.1 L1680.0 731.7 L1680.8 732.2 L1681.0 731.7 L1682.0 731.4 L1683.0 732.4 L1684.0 733.0 L1685.0 733.6 L1686.0 732.8 L1687.0 731.8 L1688.0 732.1 L1689.0 731.8 L1690.0 732.1 L1691.0 731.7 L1692.0 731.2 L1693.0 732.1 L1694.0 731.9 L1695.0 731.7 L1696.0 732.1 L1697.0 733.0 L1698.0 732.1 L1699.0 731.7 L1700.0 732.0 L1701.0 730.8 L1702.0 732.1 L1703.0 731.8 L1704.0 731.9 L1705.0 732.1 L1706.0 732.2 L1707.0 730.7 L1708.0 731.2 L1709.0 731.0 L1710.0 730.3 L1711.0 731.5 L1712.0 730.7 L1713.0 730.6 L1714.0 731.2 L1715.0 731.7 L1716.0 732.6 L1717.0 732.2 L1718.0 733.0 L1719.0 732.1 L1720.0 731.3 L1721.0 730.9 L1722.0 731.0 L1723.0 729.7 L1724.0 729.6 L1725.0 730.3 L1726.0 731.3 L1727.0 731.3 L1728.0 731.2 L1729.0 730.8 L1730.0 729.7 L1731.0 730.5 L1732.0 730.0 L1733.0 731.5 L1734.0 731.5 L1735.0 731.7 L1736.0 732.1 L1737.0 732.0 L1738.0 731.9 L1739.0 731.9 L1740.0 731.4 L1741.0 731.0 L1742.0 731.6 L1743.0 731.8 L1744.0 731.3 L1745.0 730.4 L1746.0 730.7 L1747.0 730.3 L1748.0 730.8 L1749.0 730.3 L1750.0 730.4 L1751.0 731.0 L1752.0 730.4 L1753.0 730.9 L1754.0 729.9 L1755.0 729.8 L1756.0 729.7 L1757.0 729.7 L1758.0 729.2 L1759.0 729.7 L1760.0 729.0 L1761.0 729.8 L1762.0 729.8 L1763.0 729.0 L1764.0 729.7 L1765.0 729.1 L1766.0 729.2 L1767.0 728.1 L1768.0 728.3 L1769.0 728.4 L1770.0 727.1 L1771.0 727.4 L1772.0 728.1 L1773.0 727.8 L1774.0 728.0 L1775.0 727.5 L1776.0 726.7 L1777.0 727.1 L1778.0 726.4 L1779.0 726.4 L1780.0 726.0 L1781.0 725.8 L1782.0 724.7 L1783.0 724.5 L1784.0 723.9 L1785.0 725.4 L1786.0 723.8 L1787.0 722.7 L1788.0 721.5 L1789.0 720.9 L1790.0 720.5 L1791.0 720.9 L1792.0 720.4 L1793.0 719.7 L1794.0 718.7 L1795.0 718.3 L1796.0 718.3 L1796.1 717.9 L1797.0 717.1 L1798.0 715.3 L1799.0 715.1 L1800.0 714.1 L1801.0 713.1 L1802.0 710.7 L1802.1 711.4 L1803.0 711.5 L1804.0 711.5 L1805.0 711.1 L1806.0 711.5 L1807.0 711.7 L1807.1 711.4 L1808.0 712.6 L1809.0 714.3 L1809.1 714.5 L1810.0 713.7 L1811.0 712.2 L1811.7 710.7 L1812.0 711.2 L1813.0 709.4 L1814.0 709.7 L1814.2 709.7 L1815.0 712.0 L1816.0 714.0 L1816.7 715.6 L1817.0 715.6 L1818.0 716.5 L1819.0 718.2 L1820.0 719.8 L1820.2 719.9 L1821.0 721.1 L1822.0 722.4 L1823.0 724.2 L1823.2 724.5 L1824.0 724.4 L1825.0 725.5 L1826.0 725.8 L1827.0 726.6 L1827.2 726.7 L1828.0 726.9 L1829.0 727.2 L1830.0 726.9 L1831.0 726.4 L1832.0 725.3 L1832.2 725.4 L1833.0 726.5 L1834.0 726.7 L1835.0 728.6 L1836.0 729.1 L1837.0 729.8 L1837.2 729.8 L1838.0 730.8 L1839.0 730.7 L1840.0 732.0 L1841.0 731.7 L1842.0 731.0 L1843.0 732.0 L1843.2 731.2 L1844.0 730.9 L1845.0 730.9 L1846.0 730.8 L1847.0 730.9 L1848.0 731.0 L1849.0 730.9 L1850.0 730.3 L1851.0 730.1 L1852.0 730.4 L1853.0 731.0 L1854.0 731.4 L1855.0 732.0 L1856.0 730.4 L1857.0 730.7 L1858.0 730.3 L1858.3 730.0 L1859.0 729.8 L1860.0 729.0 L1861.0 728.5 L1862.0 728.2 L1863.0 728.6 L1863.3 729.1 L1864.0 729.4 L1865.0 728.1 L1866.0 727.7 L1867.0 727.9 L1868.0 727.7 L1869.0 728.5 L1870.0 727.6 L1871.0 727.9 L1872.0 727.3 L1873.0 727.8 L1873.3 728.1 L1874.0 728.2 L1875.0 726.9 L1876.0 726.9 L1877.0 725.8 L1878.0 725.5 L1878.3 725.3 L1879.0 724.7 L1880.0 724.3 L1881.0 723.8 L1882.0 722.5 L1883.0 722.8 L1883.3 722.1 L1884.0 722.0 L1885.0 720.3 L1886.0 719.0 L1887.0 717.5 L1887.3 717.0 L1888.0 716.3 L1889.0 715.0 L1890.0 714.5 L1891.0 713.6 L1892.0 712.8 L1893.0 711.6 L1893.4 711.3 L1894.0 709.3 L1895.0 707.5 L1896.0 704.0 L1896.9 701.6 L1897.0 701.5 L1898.0 699.2 L1899.0 696.5 L1900.0 694.1 L1900.4 693.3 L1901.0 690.9 L1901.9 686.7 L1902.0 686.7 L1903.0 685.9 L1904.0 684.8 L1905.0 683.3 L1905.4 683.3 L1906.0 682.7 L1907.0 681.7 L1908.0 680.0 L1908.4 679.4 L1909.0 680.3 L1910.0 681.2 L1911.0 681.3 L1912.0 682.8 L1912.4 682.8 L1913.0 683.8 L1914.0 686.0 L1915.0 688.7 L1915.4 689.6 L1916.0 689.8 L1917.0 689.4 L1918.0 691.5 L1919.0 692.3 L1919.9 692.2 L1920.0 692.9 L1921.0 700.1 L1921.4 703.0 L1922.0 704.8 L1923.0 707.0 L1924.0 709.1 L1924.4 709.5 L1925.0 710.5 L1926.0 711.6 L1927.0 712.5 L1928.0 713.9 L1929.0 714.8 L1929.4 714.8 L1930.0 715.7 L1931.0 717.9 L1932.0 719.6 L1932.5 721.1 L1933.0 720.7 L1934.0 721.9 L1935.0 722.5 L1936.0 724.0 L1937.0 724.9 L1937.5 725.7 L1938.0 725.5 L1939.0 725.8 L1940.0 726.9 L1941.0 727.4 L1942.0 727.3 L1943.0 728.1 L1944.0 728.3 L1945.0 729.8 L1946.0 729.4 L1947.0 729.2 L1948.0 729.6"/>
<path class="curve" stroke="#f00" d="M170.0 1158.9 L171.0 1157.8 L172.0 1158.1 L173.0 1158.2 L174.0 1157.4 L175.0 1157.6 L176.0 1157.3 L177.0 1156.3 L178.0 1157.6 L179.0 1157.4 L180.0 1156.8 L181.0 1157.2 L182.0 1157.9 L183.0 1158.2 L184.0 1158.8 L185.0 1158.5 L186.0 1159.5 L187.0 1159.1 L188.0 1158.8 L189.0 1157.8 L190.0 1159.3 L191.0 1158.4 L192.0 1157.8 L193.0 1158.8 L194.0 1157.6 L195.0 1157.2 L196.0 1158.1 L197.0 1157.5 L198.0 1159.2 L199.0 1158.4 L200.0 1158.1 L201.0 1159.0 L202.0 1157.5 L203.0 1158.4 L204.0 1157.0 L205.0 1157.7 L206.0 1157.6 L207.0 1159.1 L208.0 1159.3 L209.0 1158.4 L210.0 1159.0 L211.0 1158.6 L212.0 1159.0 L213.0 1158.2 L214.0 1157.6 L215.0 1157.6 L216.0 1159.0 L217.0 1160.2 L218.0 1159.5 L219.0 1159.2 L220.0 1160.2 L221.0 1159.1 L222.0 1158.9 L223.0 1158.9 L224.0 1158.8 L225.0 1158.7 L226.0 1158.1 L227.0 1158.9 L228.0 1158.5 L229.0 1159.1 L230.0 1158.5 L231.0 1158.1 L232.0 1159.4 L233.0 1160.7 L234.0 1159.8 L235.0 1159.3 L236.0 1158.7 L237.0 1158.5 L238.0 1158.8 L239.0 1158.6 L240.0 1160.2 L241.0 1159.5 L242.0 1159.8 L243.0 1160.7 L244.0 1161.0 L245.0 1160.1 L246.0 1159.9 L247.0 1159.4 L248.0 1158.3 L249.0 1157.1 L250.0 1158.2 L251.0 1158.4 L252.0 1158.3 L253.0 1157.9 L254.0 1158.7 L255.0 1159.0 L256.0 1159.6 L257.0 1160.6 L258.0 1160.6 L259.0 1159.8 L260.0 1159.3 L261.0 1158.9 L262.0 1158.5 L263.0 1158.7 L264.0 1158.9 L265.0 1159.9 L266.0 1161.6 L267.0 1161.0 L268.0 1160.1 L269.0 1159.7 L270.0 1159.2 L271.0 1159.7 L272.0 1159.7 L273.0 1158.9 L274.0 1160.0 L275.0 1159.9 L276.0 1161.2 L277.0 1160.8 L278.0 1161.2 L279.0 1159.4 L280.0 1158.8 L281.0 1158.6 L282.0 1158.8 L283.0 1158.6 L284.0 1157.8 L285.0 1158.9 L286.0 1159.5 L287.0 1159.9 L288.0 1160.0 L289.0 1161.0 L290.0 1159.5 L291.0 1158.9 L292.0 1159.4 L293.0 1159.0 L294.0 1158.9 L295.0 1159.4 L296.0 1159.3 L297.0 1159.3 L298.0 1159.8 L299.0 1159.7 L300.0 1159.5 L301.0 1159.8 L302.0 1159.8 L303.0 1160.1 L304.0 1159.4 L305.0 1159.1 L306.0 1160.2 L307.0 1159.6 L308.0 1159.2 L309.0 1160.1 L310.0 1159.2 L311.0 1159.6 L312.0 1159.2 L313.0 1159.1 L314.0 1159.2 L315.0 1159.6 L316.0 1159.7 L317.0 1159.6 L318.0 1160.1 L319.0 1159.9 L320.0 1161.0 L321.0 1160.2 L322.0 1160.9 L323.0 1161.1 L324.0 1161.0 L325.0 1161.2 L326.0 1159.5 L327.0 1160.5 L328.0 1160.4 L329.0 1159.8 L330.0 1158.6 L331.0 1159.4 L332.0 1160.8 L333.0 1160.0 L334.0 1161.7 L335.0 1162.5 L336.0 1161.7 L337.0 1162.2 L338.0 1161.2 L339.0 1161.1 L340.0 1160.9 L341.0 1161.2 L342.0 1161.2 L343.0 1162.1 L344.0 1161.5 L345.0 1161.9 L346.0 1162.2 L347.0 1161.7 L348.0 1160.5 L349.0 1161.3 L350.0 1160.3 L351.0 1160.2 L352.0 1159.9 L353.0 1160.7 L354.0 1160.8 L355.0 1160.4 L356.0 1160.8 L357.0 1161.6 L358.0 1160.9 L359.0 1161.5 L360.0 1160.9 L361.0 1160.3 L362.0 1161.2 L363.0 1160.5 L364.0 1160.2 L365.0 1162.6 L366.0 1160.7 L367.0 1161.9 L368.0 1162.0 L369.0 1161.7 L370.0 1160.9 L371.0 1162.2 L372.0 1161.0 L373.0 1161.1 L374.0 1161.7 L375.0 1162.4 L376.0 1162.3 L377.0 1162.5 L378.0 1161.9 L379.0 1162.0 L380.0 1161.4 L381.0 1161.5 L382.0 1161.4 L383.0 1160.3 L384.0 1160.4 L385.0 1160.1 L386.0 1160.5 L387.0 1161.4 L388.0 1161.6 L389.0 1162.3 L390.0 1162.1 L391.0 1162.8 L392.0 1161.5 L393.0 1161.2 L394.0 1160.6 L395.0 1161.1 L396.0 1161.4 L397.0 1160.6 L398.0 1160.7 L399.0 1161.0 L400.0 1160.6 L401.0 1160.5 L402.0 1161.4 L403.0 1160.9 L404.0 1160.9 L405.0 1161.3 L406.0 1161.6 L407.0 1161.1 L408.0 1161.1 L409.0 1161.5 L410.0 1161.3 L411.0 1160.6 L412.0 1162.4 L413.0 1161.8 L414.0 1162.0 L415.0 1160.9 L416.0 1162.3 L417.0 1161.5 L418.0 1161.7 L419.0 1160.9 L420.0 1161.2 L421.0 1160.9 L422.0 1160.8 L423.0 1161.1 L424.0 1160.9 L425.0 1161.5 L426.0 1160.9 L427.0 1160.7 L428.0 1161.0 L429.0 1161.1 L430.0 1161.4 L431.0 1161.4 L432.0 1160.3 L433.0 1161.6 L434.0 1162.1 L435.0 1161.2 L436.0 1160.7 L437.0 1161.0 L438.0 1160.6 L439.0 1161.5 L440.0 1161.5 L441.0 1162.3 L442.0 1161.6 L443.0 1160.5 L444.0 1160.9 L445.0 1161.0 L446.0 1160.5 L447.0 1160.9 L448.0 1160.2 L449.0 1162.0 L450.0 1161.3 L451.0 1160.3 L452.0 1160.1 L453.0 1160.5 L454.0 1160.8 L455.0 1160.4 L456.0 1160.7 L457.0 1159.7 L458.0 1159.4 L459.0 1160.4 L460.0 1160.4 L461.0 1160.6 L462.0 1161.7 L463.0 1160.8 L464.0 1161.2 L465.0 1162.0 L466.0 1162.4 L467.0 1161.6 L468.0 1162.2 L469.0 1160.5 L470.0 1160.5 L471.0 1159.9 L472.0 1159.2 L473.0 1160.1 L474.0 1160.4 L475.0 1159.7 L476.0 1159.5 L477.0 1160.3 L478.0 1159.3 L479.0 1159.7 L480.0 1160.9 L481.0 1161.2 L482.0 1162.8 L483.0 1162.4 L484.0 1161.9 L485.0 1162.1 L486.0 1163.9 L487.0 1162.0 L488.0 1161.5 L489.0 1161.3 L490.0 1160.8 L491.0 1160.0 L492.0 1159.3 L493.0 1159.3 L494.0 1160.8 L495.0 1161.1 L496.0 1160.8 L497.0 1162.3 L498.0 1161.9 L499.0 1161.2 L500.0 1161.1 L501.0 1161.5 L502.0 1161.4 L503.0 1161.2 L504.0 1162.0 L505.0 1160.9 L506.0 1161.7 L507.0 1160.8 L508.0 1161.6 L509.0 1161.8 L510.0 1162.7 L511.0 1161.0 L512.0 1160.6 L513.0 1160.9 L514.0 1160.7 L515.0 1161.0 L516.0 1161.5 L517.0 1161.5 L518.0 1161.7 L519.0 1160.4 L520.0 1162.2 L521.0 1162.1 L522.0 1161.3 L523.0 1160.4 L524.0 1161.4 L525.0 1161.3 L526.0 1160.0 L527.0 1161.2 L528.0 1160.9 L529.0 1160.3 L530.0 1160.6 L531.0 1160.4 L532.0 1159.4 L533.0 1159.8 L534.0 1159.4 L535.0 1159.4 L536.0 1159.9 L537.0 1160.3 L538.0 1159.9 L539.0 1159.1 L540.0 1160.4 L541.0 1159.2 L542.0 1160.2 L543.0 1161.4 L544.0 1160.7 L545.0 1160.2 L546.0 1160.0 L547.0 1161.3 L548.0 1160.7 L549.0 1161.1 L550.0 1161.3 L551.0 1160.8 L552.0 1160.7 L553.0 1160.2 L554.0 1158.8 L555.0 1159.2 L556.0 1160.0 L557.0 1160.3 L558.0 1160.8 L559.0 1160.6 L560.0 1160.4 L561.0 1160.2 L562.0 1159.1 L563.0 1159.8 L564.0 1159.7 L565.0 1161.6 L566.0 1161.5 L567.0 1161.7 L568.0 1162.0 L569.0 1161.5 L570.0 1160.7 L571.0 1160.9 L572.0 1159.8 L573.0 1160.8 L574.0 1160.6 L575.0 1159.6 L576.0 1160.8 L577.0 1159.5 L578.0 1160.0 L579.0 1159.2 L580.0 1159.7 L581.0 1160.0 L582.0 1159.4 L583.0 1159.5 L584.0 1160.4 L585.0 1160.9 L586.0 1160.2 L587.0 1160.2 L588.0 1160.9 L589.0 1159.3 L590.0 1160.4 L591.0 1160.1 L592.0 1160.8 L593.0 1160.0 L594.0 1159.4 L595.0 1159.5 L596.0 1159.0 L597.0 1159.9 L598.0 1159.7 L599.0 1159.9 L600.0 1159.8 L601.0 1160.7 L602.0 1160.2 L603.0 1160.3 L604.0 1159.9 L605.0 1159.1 L606.0 1159.8 L607.0 1159.9 L608.0 1160.3 L609.0 1160.4 L610.0 1160.6 L611.0 1161.2 L612.0 1161.7 L613.0 1159.9 L614.0 1160.4 L615.0 1159.8 L616.0 1160.3 L617.0 1160.1 L618.0 1160.5 L619.0 1158.5 L620.0 1159.3 L621.0 1158.8 L622.0 1159.2 L623.0 1159.3 L624.0 1159.9 L625.0 1161.0 L626.0 1161.6 L627.0 1158.9 L628.0 1159.8 L629.0 1160.0 L630.0 1159.9 L631.0 1159.8 L632.0 1159.3 L633.0 1159.6 L634.0 1160.5 L635.0 1160.9 L636.0 1160.4 L637.0 1159.8 L638.0 1159.9 L639.0 1159.4 L640.0 1159.6 L641.0 1159.4 L642.0 1159.2 L643.0 1160.0 L644.0 1159.7 L645.0 1161.1 L646.0 1161.4 L647.0 1160.1 L648.0 1160.7 L649.0 1159.8 L650.0 1160.5 L651.0 1160.1 L652.0 1159.4 L653.0 1160.1 L654.0 1159.7 L655.0 1159.9 L656.0 1160.1 L657.0 1160.2 L658.0 1160.0 L659.0 1160.4 L660.0 1160.3 L661.0 1161.3 L662.0 1161.5 L663.0 1160.5 L664.0 1159.6 L665.0 1160.4 L666.0 1160.3 L667.0 1159.5 L668.0 1158.8 L669.0 1159.4 L670.0 1159.8 L671.0 1157.9 L672.0 1159.1 L673.0 1159.0 L674.0 1159.0 L675.0 1159.9 L676.0 1159.2 L677.0 1160.2 L678.0 1160.9 L679.0 1160.5 L680.0 1160.0 L681.0 1159.4 L682.0 1159.5 L683.0 1159.2 L684.0 1160.8 L685.0 1159.7 L686.0 1159.2 L687.0 1159.0 L688.0 1158.9 L689.0 1159.0 L690.0 1158.4 L691.0 1160.2 L692.0 1159.7 L693.0 1160.3 L694.0 1161.0 L695.0 1161.4 L696.0 1160.9 L697.0 1159.8 L698.0 1160.2 L699.0 1160.1 L700.0 1160.1 L701.0 1159.7 L702.0 1158.8 L703.0 1158.5 L704.0 1159.2 L705.0 1158.7 L706.0 1160.1 L707.0 1159.7 L708.0 1159.6 L709.0 1160.4 L710.0 1160.4 L711.0 1160.6 L712.0 1160.8 L713.0 1159.3 L714.0 1158.7 L715.0 1159.4 L716.0 1158.9 L717.0 1158.9 L718.0 1159.1 L719.0 1159.0 L720.0 1159.6 L721.0 1158.7 L722.0 1159.0 L723.0 1158.5 L724.0 1158.3 L725.0 1159.2 L726.0 1159.1 L727.0 1157.6 L728.0 1157.6 L729.0 1158.0 L730.0 1158.2 L731.0 1157.7 L732.0 1158.5 L733.0 1158.3 L734.0 1160.3 L735.0 1159.0 L736.0 1158.9 L737.0 1158.6 L738.0 1158.7 L739.0 1158.8 L740.0 1158.6 L741.0 1159.2 L742.0 1158.8 L743.0 1159.1 L744.0 1157.9 L745.0 1157.8 L746.0 1158.5 L747.0 1158.9 L748.0 1158.4 L749.0 1158.1 L750.0 1158.3 L751.0 1157.9 L752.0 1158.9 L753.0 1158.5 L754.0 1158.9 L755.0 1158.7 L756.0 1158.6 L757.0 1159.4 L758.0 1158.9 L759.0 1157.9 L760.0 1157.2 L761.0 1157.3 L762.0 1156.4 L763.0 1156.3 L764.0 1155.1 L765.0 1154.2 L766.0 1154.2 L767.0 1154.2 L768.0 1155.0 L769.0 1153.8 L770.0 1153.5 L771.0 1152.4 L772.0 1151.6 L773.0 1151.4 L774.0 1152.3 L775.0 1151.3 L776.0 1152.1 L777.0 1152.0 L778.0 1151.2 L779.0 1152.0 L780.0 1151.2 L781.0 1151.4 L782.0 1150.5 L783.0 1150.9 L784.0 1150.0 L785.0 1150.7 L786.0 1150.2 L787.0 1150.1 L788.0 1150.1 L789.0 1149.5 L790.0 1149.2 L791.0 1149.7 L792.0 1150.0 L793.0 1149.1 L794.0 1150.0 L795.0 1149.7 L796.0 1148.6 L797.0 1148.7 L798.0 1147.6 L799.0 1148.7 L800.0 1147.6 L801.0 1147.7 L802.0 1148.5 L803.0 1148.2 L804.0 1149.0 L805.0 1148.4 L806.0 1148.9 L807.0 1148.6 L808.0 1149.1 L809.0 1149.9 L810.0 1150.0 L811.0 1150.6 L812.0 1150.4 L813.0 1151.1 L814.0 1151.9 L815.0 1153.0 L816.0 1152.0 L817.0 1151.1 L818.0 1150.6 L819.0 1149.5 L820.0 1149.1 L821.0 1150.1 L822.0 1149.8 L823.0 1150.4 L824.0 1151.2 L825.0 1150.6 L826.0 1150.7 L827.0 1150.4 L828.0 1147.7 L829.0 1143.6 L829.3 1142.8 L830.0 1142.2 L831.0 1143.4 L832.0 1142.8 L833.0 1142.9 L834.0 1143.1 L835.0 1144.4 L836.0 1144.5 L836.8 1143.6 L837.0 1142.9 L838.0 1140.8 L839.0 1138.9 L840.0 1136.8 L841.0 1134.6 L842.0 1132.4 L842.9 1129.8 L843.0 1130.5 L844.0 1129.8 L845.0 1130.1 L846.0 1130.1 L847.0 1129.4 L848.0 1129.0 L849.0 1129.7 L850.0 1129.2 L850.4 1128.6 L851.0 1127.9 L852.0 1129.4 L853.0 1130.3 L854.0 1131.3 L855.0 1131.5 L856.0 1132.2 L856.4 1132.3 L857.0 1134.2 L858.0 1136.9 L859.0 1140.2 L859.4 1141.4 L860.0 1142.6 L861.0 1143.4 L862.0 1145.2 L863.0 1146.0 L864.0 1147.0 L865.0 1148.4 L866.0 1149.7 L866.9 1149.8 L867.0 1151.0 L868.0 1151.5 L869.0 1151.8 L870.0 1152.9 L871.0 1152.8 L872.0 1153.6 L872.9 1153.2 L873.0 1153.2 L874.0 1154.4 L875.0 1155.1 L876.0 1154.6 L877.0 1154.9 L878.0 1154.6 L879.0 1154.6 L880.0 1155.3 L881.0 1156.2 L882.0 1154.7 L882.7 1155.3 L883.0 1154.4 L884.0 1154.3 L885.0 1153.9 L886.0 1152.4 L886.5 1152.2 L887.0 1153.6 L888.0 1154.2 L889.0 1155.0 L890.0 1156.0 L891.0 1156.5 L892.0 1157.6 L893.0 1157.1 L894.0 1158.1 L895.0 1158.1 L896.0 1157.1 L897.0 1156.8 L898.0 1157.2 L899.0 1156.8 L900.0 1156.7 L901.0 1156.2 L902.0 1157.6 L903.0 1157.3 L904.0 1157.2 L905.0 1158.3 L906.0 1159.1 L907.0 1159.7 L908.0 1158.3 L909.0 1157.6 L910.0 1158.9 L911.0 1157.8 L912.0 1157.7 L913.0 1157.6 L914.0 1157.8 L915.0 1158.9 L916.0 1157.6 L917.0 1156.7 L918.0 1156.3 L919.0 1156.6 L920.0 1155.5 L921.0 1155.8 L922.0 1155.6 L923.0 1155.4 L924.0 1154.6 L925.0 1155.5 L926.0 1156.1 L927.0 1155.6 L928.0 1155.5 L928.6 1155.3 L929.0 1155.5 L930.0 1154.6 L931.0 1154.2 L932.0 1154.1 L933.0 1153.4 L934.0 1154.2 L935.0 1153.6 L936.0 1153.0 L937.0 1152.6 L938.0 1152.3 L939.0 1151.2 L940.0 1150.1 L940.6 1150.6 L941.0 1150.2 L942.0 1150.4 L943.0 1150.2 L944.0 1150.7 L945.0 1149.7 L946.0 1149.5 L947.0 1149.9 L948.0 1149.9 L949.0 1150.7 L949.6 1150.2 L950.0 1149.2 L951.0 1147.9 L952.0 1146.7 L953.0 1146.1 L954.0 1144.9 L955.0 1143.5 L955.6 1143.0 L956.0 1142.4 L957.0 1142.0 L958.0 1141.6 L959.0 1142.5 L960.0 1142.2 L961.0 1141.6 L961.7 1141.2 L962.0 1140.3 L963.0 1137.7 L964.0 1135.3 L965.0 1132.8 L966.0 1130.3 L966.2 1129.8 L967.0 1129.3 L968.0 1128.1 L969.0 1126.7 L970.0 1126.3 L970.7 1125.3 L971.0 1123.7 L972.0 1118.2 L973.0 1112.8 L974.0 1107.4 L974.3 1106.0 L975.0 1101.4 L976.0 1095.6 L977.0 1089.6 L978.0 1083.9 L978.7 1079.7 L979.0 1077.0 L980.0 1068.0 L981.0 1059.0 L981.6 1053.7 L982.0 1049.3 L983.0 1038.3 L984.0 1027.3 L984.5 1021.8 L985.0 1013.1 L986.0 995.3 L986.8 981.2 L987.0 977.2 L988.0 956.8 L988.8 940.4 L989.0 936.9 L990.0 919.2 L991.0 901.6 L991.1 899.9 L992.0 882.6 L993.0 863.0 L993.2 859.3 L994.0 846.2 L995.0 829.7 L995.5 821.6 L996.0 814.2 L997.0 799.0 L998.0 784.1 L998.4 778.0 L999.0 770.9 L1000.0 759.5 L1000.9 749.0 L1001.0 748.7 L1001.9 743.8 L1002.0 744.1 L1002.9 749.0 L1003.0 752.2 L1003.8 778.0 L1004.0 781.1 L1005.0 796.1 L1006.0 811.1 L1006.7 821.5 L1007.0 827.3 L1008.0 846.0 L1008.7 859.2 L1009.0 864.5 L1010.0 882.2 L1011.0 899.9 L1012.0 919.3 L1013.0 938.6 L1013.1 940.6 L1014.0 956.5 L1015.0 974.1 L1015.4 981.1 L1016.0 991.8 L1017.0 1009.4 L1017.7 1021.8 L1018.0 1025.5 L1019.0 1037.9 L1020.0 1050.0 L1020.3 1053.7 L1021.0 1061.6 L1022.0 1073.1 L1022.6 1080.0 L1023.0 1083.0 L1024.0 1090.4 L1025.0 1097.9 L1026.0 1105.2 L1026.1 1105.9 L1027.0 1109.0 L1028.0 1111.8 L1029.0 1115.0 L1030.0 1118.9 L1031.0 1121.5 L1032.0 1124.6 L1032.4 1125.7 L1033.0 1127.1 L1034.0 1129.7 L1035.0 1132.1 L1036.0 1134.4 L1037.0 1136.3 L1038.0 1138.2 L1039.0 1140.9 L1040.0 1142.0 L1041.0 1142.2 L1042.0 1142.1 L1043.0 1143.0 L1044.0 1143.1 L1045.0 1143.9 L1046.0 1144.1 L1047.0 1144.9 L1048.0 1145.7 L1049.0 1146.1 L1050.0 1146.8 L1051.0 1148.0 L1052.0 1148.5 L1053.0 1148.8 L1054.0 1149.5 L1055.0 1150.4 L1056.0 1151.2 L1057.0 1152.4 L1058.0 1153.4 L1059.0 1153.6 L1060.0 1153.8 L1061.0 1153.8 L1062.0 1153.8 L1063.0 1153.6 L1064.0 1155.0 L1065.0 1155.2 L1066.0 1154.9 L1067.0 1155.5 L1068.0 1155.9 L1069.0 1156.4 L1070.0 1157.1 L1071.0 1157.0 L1072.0 1156.8 L1073.0 1156.7 L1074.0 1156.7 L1075.0 1156.8 L1076.0 1156.9 L1077.0 1156.9 L1078.0 1156.2 L1079.0 1157.1 L1080.0 1158.2 L1081.0 1157.5 L1082.0 1157.8 L1083.0 1158.9 L1084.0 1158.9 L1085.0 1158.9 L1086.0 1160.1 L1087.0 1159.8 L1088.0 1160.0 L1089.0 1159.6 L1090.0 1160.2 L1091.0 1160.2 L1092.0 1160.3 L1093.0 1160.3 L1094.0 1160.3 L1095.0 1160.0 L1096.0 1160.3 L1097.0 1159.5 L1098.0 1160.4 L1099.0 1160.6 L1100.0 1160.4 L1101.0 1160.6 L1102.0 1161.1 L1103.0 1160.4 L1104.0 1160.9 L1105.0 1160.8 L1106.0 1160.4 L1107.0 1161.3 L1108.0 1162.3 L1109.0 1162.8 L1110.0 1163.3 L1111.0 1162.6 L1112.0 1162.1 L1113.0 1161.4 L1114.0 1161.2 L1115.0 1161.7 L1116.0 1161.3 L1117.0 1161.6 L1118.0 1161.5 L1119.0 1160.1 L1120.0 1160.6 L1121.0 1160.5 L1122.0 1161.4 L1123.0 1161.8 L1124.0 1160.8 L1125.0 1160.9 L1126.0 1160.7 L1127.0 1159.8 L1128.0 1159.2 L1129.0 1158.8 L1130.0 1159.2 L1131.0 1158.1 L1132.0 1159.0 L1133.0 1158.6 L1134.0 1159.0 L1135.0 1159.9 L1136.0 1159.5 L1137.0 1160.0 L1138.0 1160.8 L1139.0 1160.5 L1140.0 1160.9 L1141.0 1161.7 L1142.0 1162.6 L1143.0 1162.2 L1144.0 1162.6 L1145.0 1162.6 L1146.0 1162.6 L1147.0 1160.8 L1148.0 1162.6 L1149.0 1162.7 L1150.0 1161.8 L1151.0 1161.8 L1152.0 1162.9 L1153.0 1162.7 L1154.0 1163.0 L1155.0 1163.4 L1156.0 1162.7 L1157.0 1162.8 L1158.0 1162.8 L1159.0 1162.8 L1160.0 1163.0 L1161.0 1162.9 L1162.0 1162.1 L1163.0 1161.8 L1164.0 1163.0 L1165.0 1162.0 L1166.0 1161.8 L1167.0 1161.0 L1168.0 1162.2 L1169.0 1161.7 L1170.0 1162.3 L1171.0 1162.3 L1172.0 1162.9 L1173.0 1163.1 L1174.0 1161.9 L1175.0 1161.6 L1176.0 1161.6 L1177.0 1160.7 L1178.0 1160.6 L1179.0 1160.9 L1180.0 1161.1 L1181.0 1162.6 L1182.0 1162.4 L1183.0 1163.5 L1184.0 1163.4 L1185.0 1161.9 L1186.0 1162.2 L1187.0 1161.7 L1188.0 1161.5 L1189.0 1162.1 L1190.0 1162.2 L1191.0 1162.8 L1192.0 1163.0 L1193.0 1162.0 L1194.0 1162.5 L1195.0 1163.1 L1196.0 1163.4 L1197.0 1161.6 L1198.0 1163.5 L1199.0 1163.0 L1200.0 1163.7 L1201.0 1162.1 L1202.0 1161.1 L1203.0 1160.8 L1204.0 1161.1 L1205.0 1160.4 L1206.0 1159.2 L1206.4 1160.2 L1207.0 1159.0 L1208.0 1159.4 L1209.0 1159.7 L1210.0 1159.9 L1211.0 1160.6 L1212.0 1160.9 L1213.0 1161.0 L1214.0 1161.3 L1215.0 1161.2 L1216.0 1160.7 L1217.0 1161.1 L1218.0 1161.3 L1219.0 1161.0 L1220.0 1160.4 L1221.0 1160.7 L1222.0 1161.0 L1223.0 1161.7 L1224.0 1162.2 L1225.0 1161.3 L1226.0 1161.3 L1227.0 1162.1 L1228.0 1162.3 L1229.0 1162.7 L1230.0 1161.2 L1231.0 1162.2 L1232.0 1160.6 L1233.0 1162.4 L1234.0 1162.2 L1235.0 1162.3 L1236.0 1162.3 L1237.0 1163.1 L1238.0 1162.6 L1239.0 1163.6 L1240.0 1163.7 L1241.0 1163.6 L1242.0 1163.5 L1243.0 1163.0 L1244.0 1162.2 L1244.5 1163.0 L1245.0 1163.1 L1246.0 1162.9 L1247.0 1163.7 L1248.0 1164.2 L1249.0 1163.3 L1250.0 1163.8 L1251.0 1163.3 L1252.0 1162.6 L1253.0 1162.9 L1254.0 1162.2 L1255.0 1162.5 L1256.0 1163.0 L1257.0 1163.0 L1258.0 1162.8 L1259.0 1163.6 L1260.0 1162.0 L1261.0 1162.3 L1262.0 1161.7 L1263.0 1162.7 L1264.0 1163.2 L1265.0 1163.3 L1266.0 1162.4 L1267.0 1162.6 L1268.0 1163.3 L1269.0 1162.5 L1270.0 1162.7 L1271.0 1161.5 L1272.0 1162.1 L1273.0 1161.5 L1274.0 1160.9 L1274.6 1160.5 L1275.0 1161.0 L1276.0 1161.1 L1277.0 1161.0 L1278.0 1160.5 L1279.0 1159.9 L1279.6 1159.6 L1280.0 1160.1 L1281.0 1158.8 L1282.0 1159.5 L1283.0 1159.8 L1284.0 1160.5 L1285.0 1160.3 L1286.0 1161.4 L1287.0 1161.3 L1288.0 1161.3 L1289.0 1161.3 L1290.0 1161.9 L1291.0 1162.1 L1292.0 1162.4 L1293.0 1162.2 L1294.0 1162.9 L1295.0 1162.1 L1296.0 1163.5 L1296.6 1161.6 L1297.0 1162.9 L1298.0 1162.7 L1299.0 1163.8 L1300.0 1162.7 L1301.0 1164.4 L1302.0 1162.7 L1303.0 1164.3 L1304.0 1163.5 L1305.0 1163.2 L1306.0 1163.4 L1307.0 1164.2 L1308.0 1163.6 L1309.0 1162.1 L1310.0 1163.8 L1311.0 1163.5 L1312.0 1162.6 L1313.0 1163.7 L1314.0 1162.6 L1315.0 1163.1 L1316.0 1163.0 L1317.0 1162.5 L1318.0 1163.1 L1319.0 1162.2 L1320.0 1162.5 L1320.7 1162.0 L1321.0 1162.2 L1322.0 1163.4 L1323.0 1162.7 L1324.0 1162.1 L1325.0 1162.4 L1326.0 1161.9 L1327.0 1162.2 L1328.0 1162.4 L1329.0 1162.5 L1330.0 1162.4 L1331.0 1161.8 L1332.0 1162.0 L1333.0 1162.2 L1334.0 1161.6 L1335.0 1162.2 L1336.0 1162.6 L1337.0 1163.3 L1338.0 1163.3 L1339.0 1162.6 L1340.0 1163.2 L1341.0 1162.7 L1342.0 1163.1 L1343.0 1163.3 L1344.0 1163.2 L1344.8 1163.1 L1345.0 1162.5 L1346.0 1162.4 L1347.0 1163.5 L1348.0 1163.2 L1349.0 1163.3 L1350.0 1163.2 L1351.0 1163.6 L1352.0 1163.6 L1353.0 1163.7 L1354.0 1163.0 L1355.0 1163.7 L1356.0 1163.1 L1357.0 1163.3 L1358.0 1164.0 L1359.0 1162.8 L1360.0 1161.9 L1361.0 1163.3 L1362.0 1163.4 L1363.0 1163.6 L1364.0 1163.1 L1365.0 1163.0 L1366.0 1162.5 L1367.0 1162.3 L1368.0 1163.5 L1369.0 1162.6 L1370.0 1162.5 L1371.0 1162.6 L1372.0 1164.0 L1373.0 1163.7 L1374.0 1163.3 L1375.0 1163.5 L1376.0 1163.8 L1377.0 1163.9 L1378.0 1162.7 L1379.0 1163.9 L1380.0 1163.2 L1380.8 1162.8 L1381.0 1162.8 L1382.0 1163.1 L1383.0 1163.3 L1384.0 1162.4 L1385.0 1162.5 L1386.0 1161.8 L1387.0 1162.4 L1388.0 1162.6 L1389.0 1161.5 L1390.0 1161.7 L1391.0 1161.9 L1392.0 1160.2 L1393.0 1160.6 L1394.0 1161.0 L1395.0 1160.0 L1396.0 1160.7 L1397.0 1160.9 L1398.0 1161.2 L1399.0 1160.0 L1400.0 1160.7 L1401.0 1160.0 L1402.0 1160.1 L1403.0 1159.9 L1404.0 1159.5 L1405.0 1159.6 L1406.0 1158.5 L1407.0 1158.7 L1408.0 1158.7 L1409.0 1158.8 L1410.0 1159.2 L1411.0 1157.7 L1412.0 1158.6 L1413.0 1158.3 L1414.0 1158.4 L1415.0 1159.9 L1416.0 1159.2 L1417.0 1159.7 L1418.0 1159.4 L1419.0 1158.4 L1420.0 1158.3 L1421.0 1160.4 L1422.0 1158.9 L1423.0 1158.1 L1424.0 1158.1 L1425.0 1157.4 L1426.0 1156.5 L1427.0 1156.1 L1428.0 1155.7 L1429.0 1155.5 L1430.0 1155.8 L1431.0 1155.2 L1432.0 1155.2 L1433.0 1155.9 L1434.0 1156.0 L1435.0 1156.5 L1436.0 1155.7 L1437.0 1155.3 L1438.0 1154.3 L1439.0 1155.2 L1440.0 1153.9 L1441.0 1154.2 L1442.0 1153.4 L1443.0 1153.6 L1444.0 1153.6 L1445.0 1152.4 L1446.0 1152.5 L1447.0 1151.2 L1448.0 1151.6 L1449.0 1149.9 L1450.0 1148.5 L1451.0 1148.1 L1452.0 1148.2 L1453.0 1146.9 L1454.0 1145.6 L1455.0 1143.6 L1456.0 1142.4 L1457.0 1141.5 L1458.0 1139.4 L1459.0 1137.9 L1460.0 1136.1 L1461.0 1134.7 L1462.0 1132.6 L1463.0 1129.9 L1464.0 1127.3 L1465.0 1124.7 L1466.0 1122.1 L1467.0 1119.4 L1468.0 1116.2 L1468.7 1114.2 L1469.0 1112.7 L1470.0 1108.4 L1471.0 1103.6 L1472.0 1098.8 L1473.0 1094.2 L1473.8 1090.3 L1474.0 1089.0 L1475.0 1082.0 L1476.0 1075.0 L1477.0 1068.1 L1477.9 1062.0 L1478.0 1061.2 L1479.0 1053.7 L1480.0 1046.1 L1480.5 1042.2 L1481.0 1036.4 L1482.0 1025.0 L1482.4 1020.6 L1483.0 1012.3 L1484.0 998.8 L1485.0 977.0 L1486.0 970.5 L1487.0 963.9 L1487.5 960.8 L1488.0 955.8 L1489.0 946.3 L1489.2 944.4 L1490.0 930.9 L1490.5 922.5 L1491.0 916.8 L1491.6 909.8 L1492.0 908.4 L1493.0 904.6 L1494.0 906.5 L1494.6 908.2 L1495.0 910.9 L1496.0 917.5 L1496.8 922.6 L1497.0 925.1 L1498.0 936.5 L1498.7 944.5 L1499.0 947.4 L1500.0 957.5 L1500.3 960.7 L1501.0 965.7 L1502.0 973.2 L1502.6 977.1 L1503.0 983.0 L1504.0 997.4 L1504.1 998.9 L1505.0 1012.9 L1505.5 1020.7 L1506.0 1027.4 L1507.0 1040.9 L1507.1 1042.0 L1508.0 1049.9 L1509.0 1058.3 L1509.4 1062.0 L1510.0 1066.0 L1511.0 1072.4 L1512.0 1078.9 L1513.0 1085.2 L1513.8 1090.9 L1514.0 1091.5 L1515.0 1096.2 L1516.0 1100.4 L1517.0 1105.0 L1518.0 1109.4 L1519.0 1114.1 L1519.8 1117.8 L1520.0 1118.2 L1521.0 1120.7 L1522.0 1122.7 L1523.0 1124.9 L1524.0 1127.4 L1525.0 1130.4 L1526.0 1132.4 L1527.0 1135.3 L1527.4 1135.4 L1528.0 1136.4 L1529.0 1138.1 L1530.0 1139.4 L1531.0 1141.9 L1532.0 1143.3 L1533.0 1143.6 L1534.0 1145.0 L1534.9 1146.4 L1535.0 1146.8 L1536.0 1147.0 L1537.0 1147.5 L1538.0 1147.7 L1539.0 1148.7 L1540.0 1148.2 L1541.0 1148.6 L1542.0 1149.5 L1543.0 1150.2 L1544.0 1150.3 L1545.0 1151.8 L1546.0 1153.2 L1547.0 1153.2 L1548.0 1153.4 L1548.4 1153.9 L1549.0 1153.9 L1550.0 1153.8 L1551.0 1153.7 L1552.0 1153.9 L1553.0 1154.3 L1554.0 1154.1 L1555.0 1155.2 L1556.0 1155.6 L1557.0 1156.3 L1558.0 1157.2 L1559.0 1157.4 L1560.0 1157.4 L1561.0 1156.8 L1562.0 1156.6 L1563.0 1157.9 L1564.0 1156.9 L1565.0 1157.4 L1566.0 1157.6 L1566.5 1158.1 L1567.0 1158.2 L1568.0 1158.9 L1569.0 1159.0 L1570.0 1159.0 L1571.0 1160.2 L1572.0 1160.5 L1573.0 1160.0 L1574.0 1160.0 L1575.0 1159.8 L1576.0 1159.7 L1577.0 1158.5 L1578.0 1157.1 L1578.5 1156.8 L1579.0 1157.2 L1580.0 1157.0 L1581.0 1159.1 L1582.0 1159.1 L1583.0 1160.1 L1584.0 1160.1 L1585.0 1159.9 L1586.0 1160.5 L1587.0 1159.3 L1588.0 1159.1 L1589.0 1159.6 L1590.0 1160.2 L1591.0 1160.2 L1592.0 1160.0 L1593.0 1160.8 L1594.0 1161.0 L1595.0 1162.0 L1596.0 1161.3 L1597.0 1161.8 L1598.0 1161.6 L1599.0 1161.2 L1600.0 1162.1 L1601.0 1162.9 L1602.0 1162.4 L1602.6 1162.9 L1603.0 1162.6 L1604.0 1163.4 L1605.0 1161.9 L1606.0 1162.1 L1607.0 1161.1 L1608.0 1161.4 L1609.0 1161.0 L1610.0 1159.9 L1611.0 1160.8 L1612.0 1160.9 L1613.0 1159.7 L1614.0 1160.6 L1615.0 1160.5 L1616.0 1160.3 L1617.0 1160.6 L1618.0 1159.5 L1619.0 1160.0 L1620.0 1159.8 L1620.6 1158.0 L1621.0 1158.4 L1622.0 1159.5 L1623.0 1159.4 L1624.0 1159.8 L1625.0 1160.2 L1626.0 1160.9 L1627.0 1160.7 L1628.0 1160.7 L1629.0 1159.5 L1630.0 1160.8 L1631.0 1160.3 L1632.0 1160.9 L1633.0 1160.1 L1634.0 1159.7 L1635.0 1160.1 L1636.0 1160.2 L1637.0 1160.7 L1638.0 1161.3 L1639.0 1161.4 L1640.0 1161.0 L1641.0 1161.0 L1642.0 1161.3 L1643.0 1161.8 L1644.0 1161.9 L1645.0 1160.9 L1646.0 1160.9 L1647.0 1160.6 L1648.0 1161.2 L1649.0 1161.5 L1650.0 1159.5 L1651.0 1161.0 L1652.0 1160.7 L1653.0 1159.9 L1654.0 1161.4 L1655.0 1161.2 L1656.0 1161.3 L1657.0 1160.4 L1658.0 1162.2 L1659.0 1161.4 L1660.0 1161.4 L1661.0 1162.4 L1662.0 1162.0 L1663.0 1162.0 L1664.0 1162.0 L1665.0 1160.3 L1666.0 1162.1 L1667.0 1161.3 L1668.0 1161.8 L1669.0 1162.1 L1670.0 1161.1 L1671.0 1161.4 L1672.0 1161.4 L1673.0 1160.9 L1674.0 1161.3 L1675.0 1160.5 L1676.0 1161.0 L1677.0 1161.4 L1678.0 1162.6 L1679.0 1164.7 L1680.0 1163.1 L1680.8 1162.9 L1681.0 1162.8 L1682.0 1162.9 L1683.0 1162.4 L1684.0 1161.2 L1685.0 1162.3 L1686.0 1162.1 L1687.0 1163.0 L1688.0 1162.0 L1689.0 1162.4 L1690.0 1163.2 L1691.0 1161.3 L1692.0 1161.7 L1693.0 1161.4 L1694.0 1161.7 L1695.0 1162.5 L1696.0 1163.1 L1697.0 1163.6 L1698.0 1163.2 L1699.0 1163.2 L1700.0 1164.4 L1701.0 1163.4 L1702.0 1163.0 L1703.0 1162.6 L1704.0 1161.6 L1705.0 1161.6 L1706.0 1161.2 L1707.0 1162.1 L1708.0 1161.5 L1709.0 1161.1 L1710.0 1161.9 L1710.8 1162.3 L1711.0 1163.0 L1712.0 1162.1 L1713.0 1161.0 L1714.0 1161.2 L1715.0 1160.7 L1716.0 1161.1 L1717.0 1160.7 L1718.0 1160.3 L1719.0 1161.4 L1720.0 1161.3 L1721.0 1161.0 L1722.0 1161.4 L1723.0 1162.5 L1724.0 1162.0 L1725.0 1162.0 L1726.0 1162.7 L1727.0 1161.3 L1728.0 1162.1 L1729.0 1161.0 L1730.0 1160.7 L1731.0 1160.9 L1732.0 1161.7 L1733.0 1160.8 L1734.0 1162.0 L1735.0 1161.9 L1736.0 1161.1 L1737.0 1162.1 L1738.0 1161.0 L1739.0 1160.6 L1740.0 1160.9 L1741.0 1161.0 L1742.0 1161.4 L1743.0 1160.4 L1744.0 1161.1 L1745.0 1160.3 L1746.0 1159.6 L1747.0 1159.4 L1748.0 1159.8 L1749.0 1158.7 L1750.0 1158.4 L1751.0 1158.7 L1752.0 1159.1 L1753.0 1158.7 L1754.0 1158.8 L1755.0 1159.0 L1756.0 1158.1 L1757.0 1158.7 L1758.0 1157.4 L1759.0 1158.1 L1760.0 1157.4 L1761.0 1157.2 L1762.0 1157.4 L1763.0 1157.3 L1764.0 1157.1 L1765.0 1157.1 L1766.0 1156.8 L1767.0 1156.7 L1768.0 1157.6 L1769.0 1158.1 L1770.0 1157.6 L1771.0 1156.5 L1772.0 1156.3 L1773.0 1155.3 L1774.0 1155.2 L1775.0 1154.4 L1776.0 1154.4 L1777.0 1155.3 L1778.0 1154.8 L1779.0 1155.2 L1780.0 1153.9 L1781.0 1153.3 L1782.0 1153.0 L1783.0 1152.8 L1784.0 1152.3 L1785.0 1152.7 L1786.0 1151.9 L1787.0 1151.5 L1788.0 1150.4 L1789.0 1148.6 L1790.0 1148.1 L1791.0 1147.1 L1792.0 1146.9 L1793.0 1145.6 L1794.0 1145.2 L1795.0 1144.5 L1796.0 1142.3 L1796.1 1142.3 L1797.0 1142.1 L1798.0 1141.1 L1799.0 1140.5 L1800.0 1139.1 L1801.0 1136.9 L1802.0 1135.6 L1802.1 1135.1 L1803.0 1135.3 L1804.0 1135.3 L1805.0 1135.6 L1806.0 1134.4 L1807.0 1134.4 L1807.1 1134.0 L1808.0 1137.4 L1809.0 1138.4 L1809.1 1138.6 L1810.0 1137.6 L1811.0 1136.8 L1811.7 1136.2 L1812.0 1136.2 L1813.0 1135.1 L1814.0 1134.1 L1814.2 1133.5 L1815.0 1136.0 L1816.0 1138.8 L1816.7 1140.3 L1817.0 1140.9 L1818.0 1141.6 L1819.0 1143.7 L1820.0 1145.0 L1820.2 1145.6 L1821.0 1146.2 L1822.0 1149.0 L1823.0 1151.1 L1823.2 1151.5 L1824.0 1151.5 L1825.0 1152.3 L1826.0 1153.1 L1827.0 1153.7 L1827.2 1153.8 L1828.0 1153.6 L1829.0 1153.0 L1830.0 1153.0 L1831.0 1152.9 L1832.0 1153.0 L1832.2 1155.3 L1833.0 1154.7 L1834.0 1155.9 L1835.0 1156.2 L1836.0 1157.3 L1837.0 1157.9 L1837.2 1158.5 L1838.0 1158.3 L1839.0 1158.1 L1840.0 1158.8 L1841.0 1159.5 L1842.0 1159.4 L1843.0 1159.6 L1843.2 1159.3 L1844.0 1159.8 L1845.0 1159.9 L1846.0 1159.3 L1847.0 1160.0 L1848.0 1159.5 L1849.0 1159.6 L1850.0 1159.3 L1851.0 1159.6 L1852.0 1160.0 L1853.0 1159.9 L1854.0 1159.5 L1855.0 1158.2 L1856.0 1157.7 L1857.0 1158.0 L1858.0 1157.6 L1858.3 1159.7 L1859.0 1159.6 L1860.0 1159.3 L1861.0 1158.5 L1862.0 1158.5 L1863.0 1157.6 L1863.3 1158.5 L1864.0 1158.0 L1865.0 1157.3 L1866.0 1158.2 L1867.0 1157.1 L1868.0 1156.5 L1869.0 1156.2 L1870.0 1156.1 L1871.0 1156.3 L1872.0 1156.6 L1873.0 1156.5 L1873.3 1156.2 L1874.0 1155.6 L1875.0 1154.9 L1876.0 1154.3 L1877.0 1153.3 L1878.0 1152.5 L1878.3 1151.0 L1879.0 1151.2 L1880.0 1150.7 L1881.0 1150.2 L1882.0 1150.0 L1883.0 1149.4 L1883.3 1149.3 L1884.0 1148.1 L1885.0 1146.7 L1886.0 1145.3 L1887.0 1143.7 L1887.3 1142.6 L1888.0 1141.5 L1889.0 1140.4 L1890.0 1138.9 L1891.0 1138.2 L1892.0 1136.4 L1893.0 1135.5 L1893.4 1134.6 L1894.0 1133.1 L1895.0 1130.0 L1896.0 1127.2 L1896.9 1123.9 L1897.0 1123.9 L1898.0 1120.7 L1899.0 1118.0 L1900.0 1115.2 L1900.4 1114.0 L1901.0 1110.9 L1901.9 1106.0 L1902.0 1105.0 L1903.0 1104.0 L1904.0 1102.0 L1905.0 1101.5 L1905.4 1100.7 L1906.0 1099.9 L1907.0 1098.2 L1908.0 1096.4 L1908.4 1095.5 L1909.0 1095.9 L1910.0 1097.5 L1911.0 1098.3 L1912.0 1099.5 L1912.4 1099.7 L1913.0 1101.8 L1914.0 1104.6 L1915.0 1108.5 L1915.4 1108.9 L1916.0 1109.4 L1917.0 1110.9 L1918.0 1112.0 L1919.0 1112.0 L1919.9 1112.1 L1920.0 1112.9 L1921.0 1121.6 L1921.4 1125.0 L1922.0 1126.9 L1923.0 1130.1 L1924.0 1133.1 L1924.4 1134.0 L1925.0 1135.2 L1926.0 1136.7 L1927.0 1138.1 L1928.0 1138.7 L1929.0 1139.6 L1929.4 1140.5 L1930.0 1142.1 L1931.0 1144.4 L1932.0 1147.5 L1932.5 1148.9 L1933.0 1148.8 L1934.0 1149.2 L1935.0 1150.4 L1936.0 1151.3 L1937.0 1152.4 L1937.5 1151.9 L1938.0 1153.6 L1939.0 1154.3 L1940.0 1153.8 L1941.0 1154.0 L1942.0 1155.3 L1943.0 1156.1 L1944.0 1157.1 L1945.0 1157.4 L1946.0 1156.8 L1947.0 1155.8 L1948.0 1156.6"/>
<g font-size="60">
<text x="139.8 170" y="1507.3">10</text><text x="424.0" y="1507.3" text-anchor="middle">20</text><text x="678.0" y="1507.3" text-anchor="middle">30</text><text x="932.0" y="1507.3" text-anchor="middle">40</text><text x="1186.0" y="1507.3" text-anchor="middle">50</text><text x="1440.0" y="1507.3" text-anchor="middle">60</text><text x="1694.0" y="1507.3" text-anchor="middle">70</text><text x="1948.0" y="1507.3" text-anchor="middle">80</text>
</g>
<text x="1048.3" y="1617" font-size="72" text-anchor="middle">2 Theta (Degree)</text>
<text transform="translate(80.3 961.0) rotate(-90)" font-size="72">Intensity <tspan dx="-2">(a.u.)</tspan></text>
<g font-size="72" text-anchor="middle">
<text x="749.5 777 817 857 893.5" y="652.8" text-anchor="start">(111)</text>
<text x="998.6" y="350.1">(200)</text>
<text x="1485.6" y="482.7">(220)</text>
<text x="1692.5 1717.3 1759.9 1799.9 1837" y="669" text-anchor="start">(311)</text>
<text x="1859.4" y="556.4">(222)</text>
</g>
<g font-size="115">
<text x="197.5 240.3 302.3" y="593 594 593">(c)</text>
<text x="195.2 237.7 306.8" y="1114">(b)</text>
<text x="1759.2 1798.5 1870.3" y="1317.6">(a)</text>
</g>
<rect x="1460" y="65" width="447.5" height="225" fill="#fff" stroke="#000" stroke-width="2"/>
<g stroke-width="7" fill="none">
<line x1="1468" y1="105.3" x2="1600" y2="105.3" stroke="#00f"/>
<line x1="1468" y1="177" x2="1600" y2="177" stroke="#f00"/>
<line x1="1468" y1="248.8" x2="1600" y2="248.8" stroke="#000"/>
</g>
<g font-size="58.4">
<text x="1616.2" y="124.7">PU-MgO</text>
<text x="1616.2" y="196.6">Nano MgO</text>
<text x="1616.2" y="268.5">PU</text>
</g>
<g fill="#fff" stroke="none"><rect x="781.48" y="645.92" width="13.62" height="8.38"/><rect x="801.47" y="645.92" width="13.06" height="8.38"/><rect x="821.48" y="645.92" width="13.62" height="8.38"/><rect x="841.47" y="645.92" width="13.06" height="8.38"/><rect x="861.48" y="645.92" width="13.62" height="8.38"/><rect x="881.47" y="645.92" width="13.06" height="8.38"/><rect x="1764.38" y="662.12" width="13.62" height="8.38"/><rect x="1784.37" y="662.12" width="13.06" height="8.38"/><rect x="1804.38" y="662.12" width="13.62" height="8.38"/><rect x="1824.37" y="662.12" width="13.06" height="8.38"/><rect x="143.37" y="1501.32" width="11.52" height="7.48"/><rect x="160.19" y="1501.32" width="11.05" height="7.48"/></g>
</svg>
</body></html>
